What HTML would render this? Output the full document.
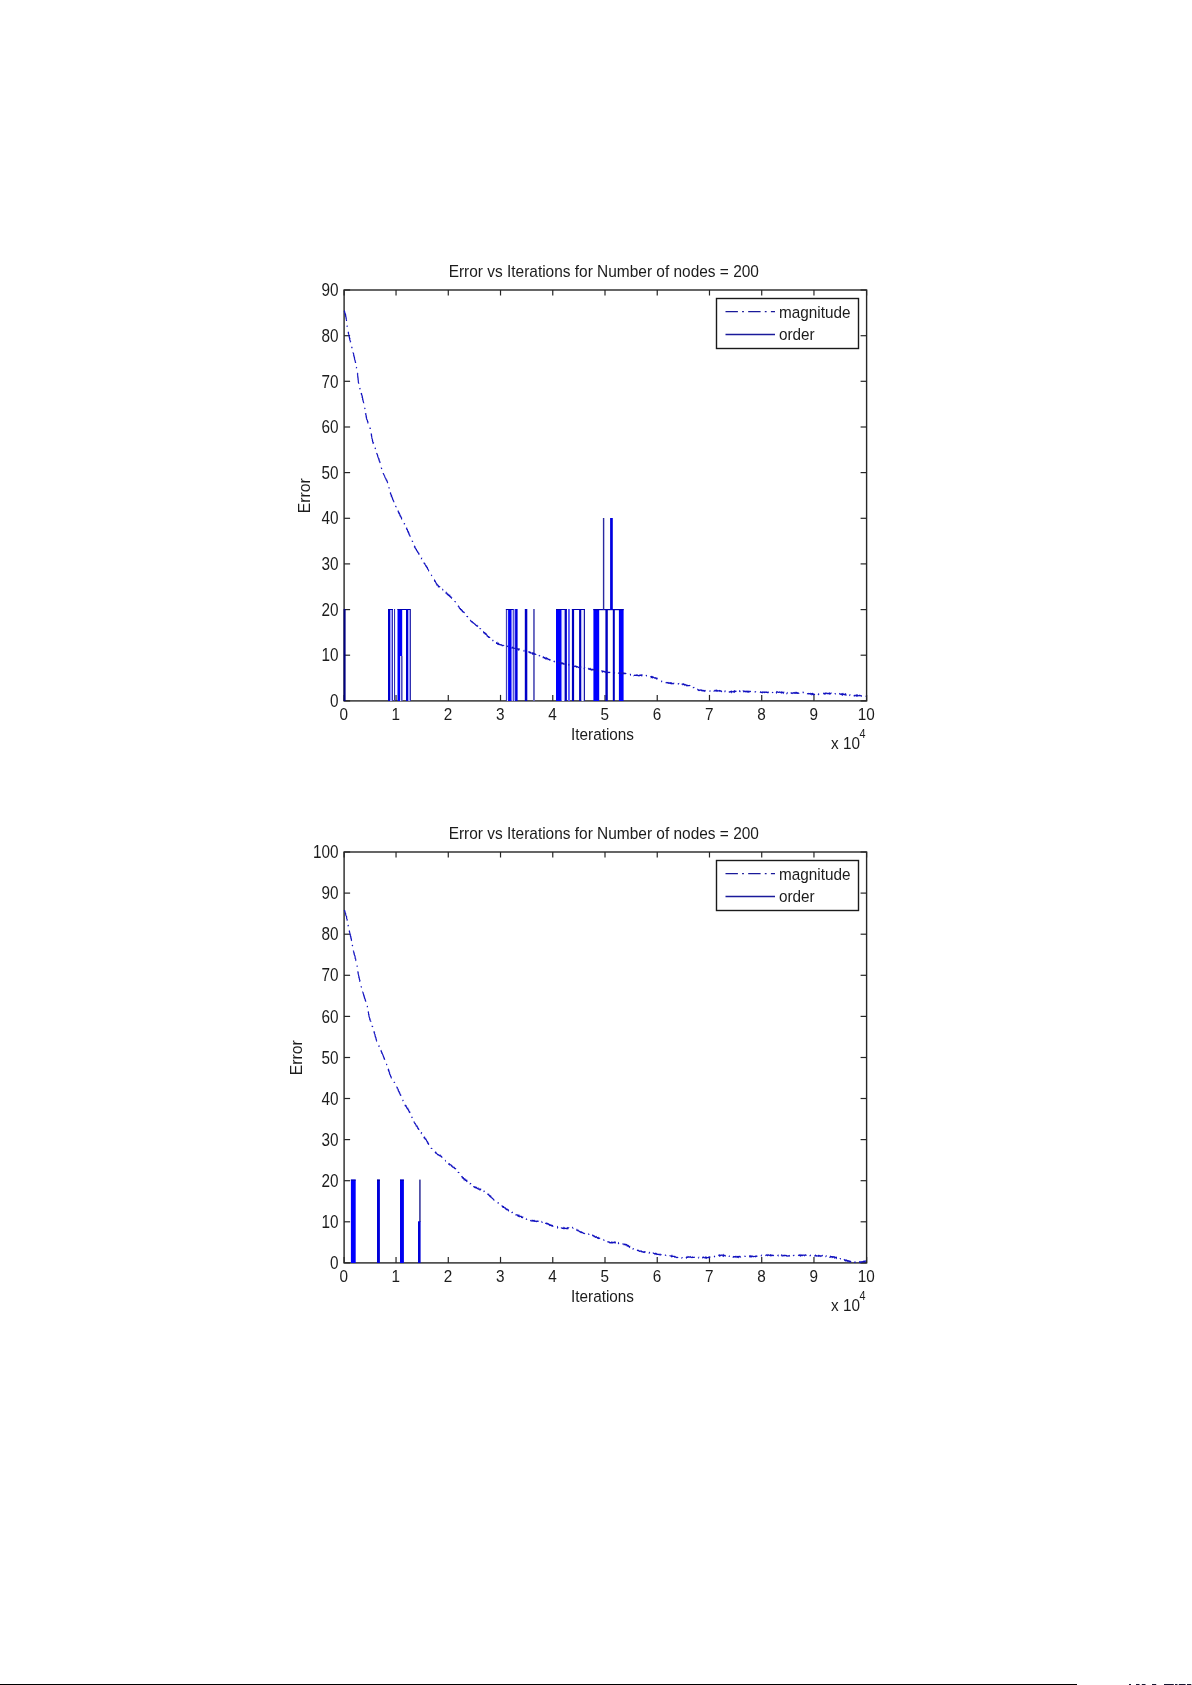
<!DOCTYPE html>
<html><head><meta charset="utf-8"><style>
html,body{margin:0;padding:0;background:#fff;width:1192px;height:1685px;overflow:hidden}
svg{position:absolute;left:0;top:0;will-change:transform}
.t{font-family:"Liberation Sans",sans-serif;font-size:17.0px;fill:#1c1c1c}
</style></head><body>
<svg width="1192" height="1685" viewBox="0 0 1192 1685">
<text transform="translate(603.80,277.20) scale(0.909,1)" text-anchor="middle" class="t">Error vs Iterations for Number of nodes = 200</text>
<text transform="translate(310.40,495.70) rotate(-90) scale(0.93,1)" text-anchor="middle" class="t">Error</text>
<text transform="translate(602.50,740.00) scale(0.9,1)" text-anchor="middle" class="t">Iterations</text>
<text transform="translate(831.00,748.50) scale(0.9,1)" text-anchor="start" class="t">x 10</text>
<text transform="translate(859.50,737.50) scale(0.9,1)" text-anchor="start" class="t" style="font-size:12px">4</text>
<rect x="344.1" y="290.0" width="522.5" height="410.9" fill="none" stroke="#262626" stroke-width="1.4"/>
<line x1="344.10" y1="700.9" x2="344.10" y2="694.9" stroke="#262626" stroke-width="1.2"/>
<line x1="344.10" y1="290.0" x2="344.10" y2="295.5" stroke="#262626" stroke-width="1.2"/>
<text transform="translate(343.80,719.80) scale(0.9,1)" text-anchor="middle" class="t">0</text>
<line x1="396.04" y1="700.9" x2="396.04" y2="694.9" stroke="#262626" stroke-width="1.2"/>
<line x1="396.04" y1="290.0" x2="396.04" y2="295.5" stroke="#262626" stroke-width="1.2"/>
<text transform="translate(395.74,719.80) scale(0.9,1)" text-anchor="middle" class="t">1</text>
<line x1="448.28" y1="700.9" x2="448.28" y2="694.9" stroke="#262626" stroke-width="1.2"/>
<line x1="448.28" y1="290.0" x2="448.28" y2="295.5" stroke="#262626" stroke-width="1.2"/>
<text transform="translate(447.98,719.80) scale(0.9,1)" text-anchor="middle" class="t">2</text>
<line x1="500.52" y1="700.9" x2="500.52" y2="694.9" stroke="#262626" stroke-width="1.2"/>
<line x1="500.52" y1="290.0" x2="500.52" y2="295.5" stroke="#262626" stroke-width="1.2"/>
<text transform="translate(500.22,719.80) scale(0.9,1)" text-anchor="middle" class="t">3</text>
<line x1="552.76" y1="700.9" x2="552.76" y2="694.9" stroke="#262626" stroke-width="1.2"/>
<line x1="552.76" y1="290.0" x2="552.76" y2="295.5" stroke="#262626" stroke-width="1.2"/>
<text transform="translate(552.46,719.80) scale(0.9,1)" text-anchor="middle" class="t">4</text>
<line x1="605.00" y1="700.9" x2="605.00" y2="694.9" stroke="#262626" stroke-width="1.2"/>
<line x1="605.00" y1="290.0" x2="605.00" y2="295.5" stroke="#262626" stroke-width="1.2"/>
<text transform="translate(604.70,719.80) scale(0.9,1)" text-anchor="middle" class="t">5</text>
<line x1="657.24" y1="700.9" x2="657.24" y2="694.9" stroke="#262626" stroke-width="1.2"/>
<line x1="657.24" y1="290.0" x2="657.24" y2="295.5" stroke="#262626" stroke-width="1.2"/>
<text transform="translate(656.94,719.80) scale(0.9,1)" text-anchor="middle" class="t">6</text>
<line x1="709.48" y1="700.9" x2="709.48" y2="694.9" stroke="#262626" stroke-width="1.2"/>
<line x1="709.48" y1="290.0" x2="709.48" y2="295.5" stroke="#262626" stroke-width="1.2"/>
<text transform="translate(709.18,719.80) scale(0.9,1)" text-anchor="middle" class="t">7</text>
<line x1="761.72" y1="700.9" x2="761.72" y2="694.9" stroke="#262626" stroke-width="1.2"/>
<line x1="761.72" y1="290.0" x2="761.72" y2="295.5" stroke="#262626" stroke-width="1.2"/>
<text transform="translate(761.42,719.80) scale(0.9,1)" text-anchor="middle" class="t">8</text>
<line x1="813.96" y1="700.9" x2="813.96" y2="694.9" stroke="#262626" stroke-width="1.2"/>
<line x1="813.96" y1="290.0" x2="813.96" y2="295.5" stroke="#262626" stroke-width="1.2"/>
<text transform="translate(813.66,719.80) scale(0.9,1)" text-anchor="middle" class="t">9</text>
<line x1="866.60" y1="700.9" x2="866.60" y2="694.9" stroke="#262626" stroke-width="1.2"/>
<line x1="866.60" y1="290.0" x2="866.60" y2="295.5" stroke="#262626" stroke-width="1.2"/>
<text transform="translate(866.30,719.80) scale(0.9,1)" text-anchor="middle" class="t">10</text>
<line x1="344.1" y1="700.9" x2="350.1" y2="700.9" stroke="#262626" stroke-width="1.2"/>
<line x1="866.6" y1="700.9" x2="860.6" y2="700.9" stroke="#262626" stroke-width="1.2"/>
<text transform="translate(338.50,707.10) scale(0.875,1)" text-anchor="end" class="t" style="font-size:17.5px">0</text>
<line x1="344.1" y1="655.2" x2="350.1" y2="655.2" stroke="#262626" stroke-width="1.2"/>
<line x1="866.6" y1="655.2" x2="860.6" y2="655.2" stroke="#262626" stroke-width="1.2"/>
<text transform="translate(338.50,661.44) scale(0.875,1)" text-anchor="end" class="t" style="font-size:17.5px">10</text>
<line x1="344.1" y1="609.6" x2="350.1" y2="609.6" stroke="#262626" stroke-width="1.2"/>
<line x1="866.6" y1="609.6" x2="860.6" y2="609.6" stroke="#262626" stroke-width="1.2"/>
<text transform="translate(338.50,615.79) scale(0.875,1)" text-anchor="end" class="t" style="font-size:17.5px">20</text>
<line x1="344.1" y1="563.9" x2="350.1" y2="563.9" stroke="#262626" stroke-width="1.2"/>
<line x1="866.6" y1="563.9" x2="860.6" y2="563.9" stroke="#262626" stroke-width="1.2"/>
<text transform="translate(338.50,570.13) scale(0.875,1)" text-anchor="end" class="t" style="font-size:17.5px">30</text>
<line x1="344.1" y1="518.3" x2="350.1" y2="518.3" stroke="#262626" stroke-width="1.2"/>
<line x1="866.6" y1="518.3" x2="860.6" y2="518.3" stroke="#262626" stroke-width="1.2"/>
<text transform="translate(338.50,524.48) scale(0.875,1)" text-anchor="end" class="t" style="font-size:17.5px">40</text>
<line x1="344.1" y1="472.6" x2="350.1" y2="472.6" stroke="#262626" stroke-width="1.2"/>
<line x1="866.6" y1="472.6" x2="860.6" y2="472.6" stroke="#262626" stroke-width="1.2"/>
<text transform="translate(338.50,478.82) scale(0.875,1)" text-anchor="end" class="t" style="font-size:17.5px">50</text>
<line x1="344.1" y1="427.0" x2="350.1" y2="427.0" stroke="#262626" stroke-width="1.2"/>
<line x1="866.6" y1="427.0" x2="860.6" y2="427.0" stroke="#262626" stroke-width="1.2"/>
<text transform="translate(338.50,433.17) scale(0.875,1)" text-anchor="end" class="t" style="font-size:17.5px">60</text>
<line x1="344.1" y1="381.3" x2="350.1" y2="381.3" stroke="#262626" stroke-width="1.2"/>
<line x1="866.6" y1="381.3" x2="860.6" y2="381.3" stroke="#262626" stroke-width="1.2"/>
<text transform="translate(338.50,387.51) scale(0.875,1)" text-anchor="end" class="t" style="font-size:17.5px">70</text>
<line x1="344.1" y1="335.7" x2="350.1" y2="335.7" stroke="#262626" stroke-width="1.2"/>
<line x1="866.6" y1="335.7" x2="860.6" y2="335.7" stroke="#262626" stroke-width="1.2"/>
<text transform="translate(338.50,341.86) scale(0.875,1)" text-anchor="end" class="t" style="font-size:17.5px">80</text>
<line x1="344.1" y1="290.0" x2="350.1" y2="290.0" stroke="#262626" stroke-width="1.2"/>
<line x1="866.6" y1="290.0" x2="860.6" y2="290.0" stroke="#262626" stroke-width="1.2"/>
<text transform="translate(338.50,296.20) scale(0.875,1)" text-anchor="end" class="t" style="font-size:17.5px">90</text>
<rect x="343.6" y="609" width="2.00" height="92.00" fill="#000080"/>
<rect x="388.0" y="609" width="2.00" height="92.00" fill="#0000d0"/>
<rect x="390.0" y="609.6" width="2.00" height="91.40" fill="#a0a0ff"/>
<rect x="392.0" y="609" width="1.00" height="92.00" fill="#3030b0"/>
<rect x="388.0" y="609" width="5.00" height="1.00" fill="#0000b0"/>
<rect x="394.0" y="609" width="1.10" height="92.00" fill="#3030c0"/>
<rect x="397.5" y="609" width="4.70" height="47.00" fill="#0000ff"/>
<rect x="397.5" y="656" width="2.50" height="45.00" fill="#0000ff"/>
<rect x="400.0" y="656" width="1.00" height="45.00" fill="#d0d0ff"/>
<rect x="401.0" y="656" width="1.60" height="45.00" fill="#5050c0"/>
<rect x="397.5" y="609" width="13.50" height="1.00" fill="#0000b0"/>
<rect x="406.0" y="609" width="2.20" height="92.00" fill="#0000d0"/>
<rect x="408.2" y="610" width="1.80" height="91.00" fill="#a0a0ff"/>
<rect x="410.0" y="609" width="1.00" height="92.00" fill="#3030b0"/>
<rect x="505.9" y="609" width="1.00" height="92.00" fill="#1a1aa8"/>
<rect x="506.9" y="610" width="1.20" height="91.00" fill="#d8d8ff"/>
<rect x="508.1" y="609" width="3.60" height="92.00" fill="#0000ff"/>
<rect x="511.7" y="610" width="1.20" height="91.00" fill="#d0d0ff"/>
<rect x="512.9" y="609" width="0.90" height="92.00" fill="#1a1aa8"/>
<rect x="505.9" y="609" width="7.90" height="1.00" fill="#0000b0"/>
<rect x="513.8" y="609" width="1.30" height="92.00" fill="#a8a8ff"/>
<rect x="515.1" y="609" width="2.50" height="92.00" fill="#0000e0"/>
<rect x="524.8" y="609" width="2.50" height="92.00" fill="#0000c8"/>
<rect x="533.0" y="609" width="1.90" height="92.00" fill="#6666c0"/>
<rect x="556.0" y="609" width="5.70" height="92.00" fill="#0000ff"/>
<rect x="561.7" y="610" width="2.90" height="91.00" fill="#ececff"/>
<rect x="564.6" y="609" width="2.30" height="92.00" fill="#0000c0"/>
<rect x="556.0" y="609" width="10.90" height="1.00" fill="#0000b0"/>
<rect x="568.0" y="609" width="1.90" height="92.00" fill="#5858ff"/>
<rect x="571.9" y="609" width="2.20" height="92.00" fill="#0000c0"/>
<rect x="579.1" y="609" width="2.40" height="92.00" fill="#0000c0"/>
<rect x="581.5" y="610" width="2.30" height="91.00" fill="#ececff"/>
<rect x="583.8" y="609" width="1.20" height="92.00" fill="#1a1aa8"/>
<rect x="571.9" y="609" width="13.10" height="1.00" fill="#0000b0"/>
<rect x="593.4" y="609" width="5.80" height="92.00" fill="#0000ff"/>
<rect x="605.4" y="609" width="2.40" height="92.00" fill="#0000c0"/>
<rect x="612.8" y="609" width="2.00" height="92.00" fill="#0000c0"/>
<rect x="618.9" y="609" width="4.70" height="92.00" fill="#0000ff"/>
<rect x="593.4" y="609" width="30.20" height="1.20" fill="#0000b0"/>
<rect x="602.9" y="518" width="1.40" height="92.00" fill="#2a2aa0"/>
<rect x="610.1" y="518" width="2.70" height="92.00" fill="#0000e0"/>
<path d="M344.30,310.70 L344.52,310.96 L344.33,311.33 L344.44,311.61 L344.71,311.85 L344.70,312.17 L344.80,312.46 L344.80,312.78 L344.83,313.09 L345.18,313.31 L345.28,313.60 L345.05,313.98 L345.29,314.23 L345.24,314.56 L345.61,314.78 L345.52,315.12 L345.49,315.44 L345.77,315.69 L345.57,316.06 L345.66,316.35 L345.90,316.60 L346.09,316.88 L346.13,317.18 L346.01,317.50 L345.92,317.82 L346.13,318.10 L346.23,318.39 L346.20,318.70 L346.36,318.98 L346.34,319.29 L346.31,319.60 L346.34,319.90 L346.46,320.19 L346.50,320.49 L346.54,320.79 L346.51,321.10 L346.60,321.39 L346.72,321.68 L346.51,322.01 L346.63,322.30 L346.65,322.61 L346.83,322.89 L346.62,323.22 L346.70,323.51 L346.97,323.78 L346.94,324.09 L346.86,324.41 L346.90,324.71 L346.87,325.02 L347.07,325.30 L346.98,325.61 L347.07,325.91 L347.23,326.19 L347.18,326.50 L347.13,326.82 L347.18,327.11 L347.32,327.40 L347.34,327.70 L347.55,327.98 L347.52,328.29 L347.39,328.61 L347.55,328.90 L347.66,329.19 L347.60,329.50 L347.65,329.80 L347.66,330.12 L347.74,330.41 L347.92,330.69 L347.96,330.99 L348.01,331.30 L347.98,331.62 L348.14,331.90 L348.25,332.19 L348.29,332.50 L348.52,332.76 L348.59,333.06 L348.42,333.42 L348.38,333.74 L348.59,334.01 L348.73,334.29 L348.88,334.57 L348.83,334.90 L348.72,335.24 L348.87,335.52 L349.02,335.80 L348.97,336.13 L349.27,336.38 L349.24,336.70 L349.15,337.04 L349.35,337.31 L349.46,337.60 L349.60,337.88 L349.57,338.20 L349.49,338.54 L349.90,338.76 L349.69,339.12 L349.74,339.43 L349.79,339.73 L349.91,340.02 L349.95,340.33 L350.12,340.60 L350.20,340.90 L350.25,341.20 L350.38,341.48 L350.60,341.74 L350.36,342.11 L350.55,342.37 L350.77,342.63 L350.73,342.95 L350.81,343.24 L350.94,343.52 L351.02,343.82 L351.02,344.13 L351.06,344.43 L351.14,344.72 L351.28,345.00 L351.52,345.25 L351.52,345.56 L351.61,345.85 L351.53,346.18 L351.50,346.50 L351.60,346.79 L351.68,347.08 L351.75,347.38 L352.04,347.62 L351.89,347.97 L352.03,348.24 L352.33,348.48 L352.43,348.77 L352.51,349.06 L352.40,349.40 L352.38,349.72 L352.63,349.97 L352.75,350.26 L352.63,350.60 L352.81,350.87 L352.98,351.15 L353.02,351.45 L352.95,351.78 L353.15,352.05 L353.18,352.36 L353.09,352.69 L353.26,352.97 L353.38,353.25 L353.39,353.56 L353.63,353.82 L353.56,354.15 L353.62,354.45 L353.78,354.73 L353.87,355.02 L353.65,355.38 L353.87,355.65 L354.05,355.92 L353.97,356.25 L353.96,356.57 L354.33,356.80 L354.40,357.09 L354.42,357.40 L354.28,357.75 L354.56,358.00 L354.42,358.34 L354.50,358.64 L354.62,358.92 L354.81,359.19 L354.60,359.56 L354.74,359.84 L354.91,360.11 L355.09,360.38 L355.01,360.72 L355.17,360.99 L355.20,361.30 L355.23,361.61 L355.39,361.89 L355.34,362.21 L355.60,362.47 L355.58,362.79 L355.40,363.13 L355.50,363.43 L355.76,363.69 L355.62,364.03 L355.88,364.29 L355.72,364.63 L355.85,364.92 L356.02,365.19 L356.14,365.48 L356.29,365.76 L356.04,366.13 L356.40,366.37 L356.19,366.72 L356.20,367.03 L356.40,367.31 L356.60,367.58 L356.41,367.93 L356.44,368.23 L356.59,368.51 L356.72,368.80 L356.83,369.09 L356.90,369.39 L357.01,369.68 L356.91,370.01 L357.06,370.30 L357.20,370.58 L357.29,370.87 L357.16,371.21 L357.35,371.49 L357.34,371.80 L357.40,372.10 L357.48,372.39 L357.35,372.71 L357.38,373.01 L357.66,373.29 L357.64,373.59 L357.63,373.89 L357.47,374.21 L357.56,374.51 L357.72,374.80 L357.79,375.09 L357.69,375.41 L357.67,375.71 L357.67,376.01 L357.88,376.30 L357.75,376.61 L357.84,376.91 L357.93,377.20 L357.81,377.51 L358.06,377.79 L357.95,378.11 L358.17,378.39 L358.17,378.69 L357.99,379.01 L358.22,379.29 L358.09,379.61 L358.17,379.90 L358.13,380.21 L358.30,380.50 L358.34,380.80 L358.38,381.09 L358.25,381.41 L358.35,381.70 L358.28,382.01 L358.33,382.31 L358.58,382.59 L358.49,382.90 L358.65,383.19 L358.70,383.49 L358.60,383.80 L358.85,384.04 L358.62,384.42 L358.73,384.70 L358.80,385.00 L359.08,385.23 L359.05,385.55 L359.07,385.86 L359.31,386.11 L359.31,386.42 L359.53,386.67 L359.67,386.94 L359.68,387.25 L359.52,387.61 L359.73,387.87 L359.67,388.20 L359.94,388.44 L360.09,388.71 L359.97,389.05 L360.04,389.35 L360.44,389.55 L360.27,389.91 L360.58,390.13 L360.65,390.43 L360.43,390.80 L360.84,391.00 L360.85,391.31 L360.64,391.68 L360.94,391.91 L361.14,392.17 L361.21,392.46 L361.26,392.76 L361.14,393.11 L361.48,393.33 L361.24,393.71 L361.54,393.94 L361.38,394.29 L361.49,394.58 L361.82,394.80 L361.91,395.08 L361.90,395.40 L361.98,395.69 L362.18,395.96 L362.05,396.30 L362.34,396.54 L362.42,396.83 L362.13,397.21 L362.45,397.45 L362.41,397.77 L362.53,398.05 L362.65,398.33 L362.81,398.60 L362.57,398.97 L362.62,399.27 L362.69,399.57 L363.07,399.79 L363.10,400.09 L363.02,400.42 L362.96,400.75 L363.18,401.00 L363.20,401.31 L363.28,401.60 L363.49,401.86 L363.46,402.18 L363.61,402.46 L363.70,402.75 L363.83,403.03 L363.83,403.34 L363.64,403.69 L363.90,403.94 L363.90,404.26 L363.97,404.55 L363.93,404.87 L364.20,405.12 L364.30,405.40 L364.36,405.70 L364.43,405.99 L364.30,406.33 L364.50,406.60 L364.42,406.92 L364.67,407.18 L364.71,407.48 L364.70,407.79 L364.74,408.09 L364.78,408.39 L364.95,408.67 L365.08,408.95 L365.06,409.26 L365.17,409.55 L365.06,409.88 L365.27,410.14 L365.33,410.44 L365.19,410.77 L365.36,411.05 L365.24,411.38 L365.39,411.66 L365.32,411.98 L365.61,412.23 L365.55,412.55 L365.50,412.87 L365.80,413.12 L365.56,413.47 L365.87,413.72 L365.72,414.05 L365.70,414.36 L365.81,414.65 L366.03,414.92 L366.16,415.20 L366.07,415.53 L365.99,415.85 L366.25,416.11 L366.10,416.44 L366.41,416.69 L366.20,417.04 L366.55,417.28 L366.50,417.60 L366.36,417.93 L366.45,418.22 L366.60,418.50 L366.53,418.85 L366.66,419.12 L366.80,419.40 L366.92,419.68 L367.24,419.89 L367.23,420.21 L367.44,420.46 L367.31,420.83 L367.43,421.11 L367.70,421.33 L367.88,421.59 L367.60,422.01 L367.77,422.27 L367.98,422.52 L368.08,422.81 L368.05,423.14 L368.32,423.37 L368.44,423.65 L368.57,423.93 L368.70,424.20 L368.90,424.45 L368.74,424.83 L368.94,425.09 L368.97,425.39 L369.28,425.61 L369.26,425.94 L369.45,426.19 L369.56,426.48 L369.60,426.78 L369.46,427.15 L369.74,427.38 L369.84,427.66 L369.85,427.98 L370.11,428.21 L370.31,428.47 L370.19,428.83 L370.30,429.11 L370.40,429.40 L370.40,429.71 L370.53,429.99 L370.50,430.30 L370.54,430.60 L370.76,430.87 L370.73,431.18 L370.79,431.48 L370.93,431.76 L370.93,432.07 L370.93,432.38 L370.87,432.70 L370.92,433.00 L371.19,433.25 L371.12,433.57 L371.38,433.83 L371.43,434.13 L371.33,434.46 L371.26,434.78 L371.56,435.03 L371.41,435.37 L371.42,435.67 L371.67,435.93 L371.60,436.25 L371.60,436.56 L371.82,436.83 L371.76,437.15 L371.80,437.45 L371.91,437.74 L371.87,438.05 L371.91,438.35 L371.95,438.65 L372.14,438.92 L372.33,439.20 L372.36,439.50 L372.42,439.79 L372.36,440.11 L372.35,440.42 L372.64,440.68 L372.48,441.01 L372.60,441.30 L372.61,441.62 L372.87,441.86 L372.90,442.17 L373.16,442.41 L373.02,442.78 L373.42,442.97 L373.12,443.40 L373.30,443.67 L373.48,443.93 L373.73,444.16 L373.56,444.55 L373.64,444.85 L374.10,445.02 L373.93,445.40 L374.00,445.70 L374.19,445.96 L374.27,446.26 L374.48,446.51 L374.38,446.87 L374.47,447.17 L374.82,447.37 L374.74,447.73 L375.01,447.96 L375.22,448.21 L375.26,448.52 L375.45,448.78 L375.22,449.19 L375.30,449.49 L375.76,449.65 L375.70,450.00 L375.76,450.30 L375.94,450.57 L376.16,450.81 L376.19,451.13 L376.31,451.41 L376.19,451.78 L376.61,451.96 L376.63,452.28 L376.63,452.60 L376.90,452.83 L376.75,453.21 L376.86,453.50 L376.86,453.82 L377.22,454.02 L377.29,454.32 L377.28,454.65 L377.50,454.90 L377.46,455.23 L377.70,455.47 L377.62,455.83 L377.68,456.13 L377.77,456.42 L377.80,456.74 L378.08,456.97 L378.20,457.25 L378.15,457.59 L378.29,457.87 L378.47,458.13 L378.65,458.39 L378.79,458.67 L378.96,458.93 L378.77,459.32 L379.16,459.51 L379.00,459.90 L379.18,460.16 L379.10,460.51 L379.29,460.77 L379.30,461.09 L379.75,461.26 L379.70,461.60 L379.79,461.89 L379.84,462.20 L380.03,462.46 L380.04,462.78 L380.18,463.05 L380.20,463.37 L380.50,463.60 L380.41,463.95 L380.49,464.24 L380.63,464.52 L380.68,464.82 L380.61,465.16 L380.74,465.44 L380.90,465.72 L380.92,466.03 L381.11,466.29 L381.27,466.57 L381.43,466.84 L381.41,467.16 L381.37,467.49 L381.34,467.82 L381.45,468.11 L381.66,468.37 L381.55,468.71 L381.85,468.95 L381.78,469.29 L382.04,469.53 L381.99,469.86 L381.98,470.19 L382.34,470.40 L382.47,470.68 L382.38,471.03 L382.50,471.31 L382.60,471.60 L382.79,471.85 L383.08,472.05 L383.04,472.42 L383.15,472.70 L383.28,472.98 L383.20,473.35 L383.46,473.57 L383.52,473.89 L383.57,474.20 L383.77,474.45 L384.01,474.67 L384.03,475.01 L384.20,475.26 L384.33,475.54 L384.46,475.82 L384.69,476.05 L384.72,476.38 L384.85,476.66 L384.83,477.00 L385.03,477.25 L385.13,477.54 L385.30,477.81 L385.40,478.09 L385.63,478.33 L385.87,478.56 L386.04,478.82 L385.97,479.19 L386.02,479.50 L386.30,479.71 L386.61,479.91 L386.42,480.33 L386.71,480.54 L386.85,480.82 L387.17,481.01 L387.08,481.38 L387.10,481.71 L387.38,481.92 L387.54,482.19 L387.60,482.50 L387.62,482.81 L387.94,483.03 L387.83,483.38 L387.74,483.71 L387.92,483.98 L388.10,484.24 L388.07,484.56 L388.18,484.84 L388.41,485.10 L388.49,485.39 L388.31,485.75 L388.62,485.98 L388.77,486.25 L388.56,486.62 L388.76,486.88 L388.90,487.15 L388.92,487.46 L388.91,487.77 L389.21,488.01 L389.10,488.35 L389.15,488.65 L389.19,488.95 L389.48,489.18 L389.42,489.51 L389.65,489.76 L389.60,490.09 L389.83,490.34 L389.67,490.70 L389.71,491.00 L390.00,491.23 L390.12,491.51 L389.91,491.88 L390.09,492.15 L390.11,492.45 L390.50,492.66 L390.40,493.00 L390.33,493.35 L390.56,493.59 L390.80,493.83 L390.86,494.13 L390.82,494.47 L390.92,494.76 L391.29,494.94 L391.21,495.30 L391.51,495.51 L391.27,495.93 L391.61,496.13 L391.51,496.49 L391.70,496.74 L391.86,497.01 L392.12,497.24 L392.11,497.56 L392.38,497.79 L392.49,498.07 L392.35,498.45 L392.61,498.68 L392.55,499.03 L392.88,499.23 L392.78,499.59 L392.89,499.88 L393.17,500.09 L393.37,500.35 L393.35,500.68 L393.41,500.98 L393.69,501.20 L393.76,501.50 L393.93,501.76 L393.80,502.14 L393.78,502.47 L394.18,502.64 L394.36,502.90 L394.18,503.29 L394.24,503.60 L394.28,503.91 L394.54,504.13 L394.70,504.40 L394.91,504.63 L394.81,505.02 L395.29,505.11 L395.16,505.51 L395.58,505.63 L395.57,505.98 L395.66,506.27 L395.86,506.50 L396.09,506.72 L396.20,507.00 L396.06,507.41 L396.37,507.59 L396.45,507.89 L396.76,508.06 L396.66,508.45 L396.98,508.63 L396.99,508.96 L396.98,509.30 L397.08,509.59 L397.67,509.62 L397.45,510.07 L397.56,510.35 L397.95,510.49 L398.00,510.80 L398.18,511.05 L398.22,511.37 L398.19,511.72 L398.55,511.89 L398.46,512.27 L398.64,512.52 L399.04,512.68 L398.82,513.11 L399.36,513.20 L399.42,513.51 L399.31,513.90 L399.72,514.05 L399.69,514.39 L399.93,514.62 L399.91,514.97 L399.86,515.32 L399.96,515.61 L400.48,515.71 L400.60,516.00 L400.37,516.44 L400.86,516.55 L400.88,516.87 L400.90,517.20 L401.23,517.37 L401.39,517.63 L401.57,517.89 L401.42,518.32 L401.52,518.61 L401.69,518.87 L401.76,519.18 L401.99,519.40 L402.27,519.60 L402.30,519.93 L402.29,520.29 L402.59,520.48 L402.93,520.64 L403.16,520.87 L402.89,521.36 L403.20,521.54 L403.47,521.75 L403.49,522.09 L403.66,522.35 L403.82,522.61 L404.19,522.76 L404.20,523.10 L404.32,523.39 L404.56,523.60 L404.38,524.05 L404.75,524.20 L404.78,524.53 L404.90,524.82 L405.04,525.09 L405.30,525.30 L405.32,525.62 L405.43,525.91 L405.77,526.08 L405.57,526.50 L406.06,526.62 L405.83,527.05 L405.98,527.31 L406.10,527.59 L406.59,527.71 L406.69,528.00 L406.48,528.42 L406.76,528.63 L406.92,528.89 L406.77,529.28 L407.31,529.38 L407.21,529.75 L407.37,530.01 L407.63,530.23 L407.63,530.56 L407.61,530.90 L407.65,531.21 L408.16,531.32 L408.06,531.69 L408.37,531.89 L408.17,532.30 L408.62,532.44 L408.76,532.71 L408.72,533.06 L408.69,533.40 L409.00,533.60 L409.20,533.84 L409.02,534.25 L409.13,534.53 L409.23,534.81 L409.60,534.98 L409.67,535.29 L409.87,535.53 L409.85,535.87 L410.07,536.10 L410.19,536.38 L410.11,536.74 L410.15,537.06 L410.44,537.26 L410.78,537.44 L410.65,537.83 L410.86,538.07 L410.74,538.45 L410.98,538.68 L411.05,538.98 L411.23,539.23 L411.42,539.47 L411.38,539.82 L411.53,540.09 L411.80,540.30 L412.02,540.54 L412.20,540.79 L412.23,541.12 L412.29,541.43 L412.60,541.62 L412.61,541.95 L412.63,542.28 L413.00,542.46 L412.77,542.89 L412.97,543.14 L413.25,543.35 L413.38,543.63 L413.48,543.92 L413.61,544.20 L413.54,544.56 L413.78,544.80 L413.89,545.08 L414.19,545.29 L413.96,545.72 L414.36,545.88 L414.40,546.20 L414.64,546.41 L414.92,546.60 L414.63,547.13 L415.03,547.25 L414.97,547.63 L415.12,547.90 L415.25,548.17 L415.48,548.39 L415.58,548.69 L415.74,548.95 L415.95,549.18 L416.43,549.25 L416.39,549.62 L416.52,549.90 L416.47,550.28 L416.73,550.48 L416.92,550.72 L417.06,551.00 L417.40,551.15 L417.27,551.58 L417.57,551.76 L417.84,551.95 L417.96,552.23 L417.87,552.64 L418.24,552.78 L418.57,552.94 L418.74,553.19 L418.63,553.61 L418.84,553.84 L418.83,554.20 L419.34,554.25 L419.38,554.58 L419.38,554.93 L419.86,555.00 L419.99,555.28 L419.93,555.67 L420.22,555.85 L420.45,556.07 L420.53,556.38 L420.50,556.75 L420.71,556.98 L421.08,557.11 L421.24,557.37 L421.02,557.86 L421.27,558.06 L421.65,558.19 L421.47,558.65 L422.04,558.67 L422.02,559.04 L421.94,559.44 L422.16,559.66 L422.53,559.80 L422.38,560.24 L422.68,560.41 L422.70,560.75 L422.85,561.02 L423.23,561.15 L423.26,561.49 L423.50,561.70 L423.64,561.97 L423.60,562.35 L423.82,562.57 L424.02,562.81 L424.13,563.10 L424.20,563.41 L424.72,563.45 L424.90,563.70 L424.79,564.12 L424.94,564.39 L425.22,564.57 L425.39,564.83 L425.59,565.06 L425.51,565.46 L425.71,565.70 L425.97,565.90 L426.39,566.00 L426.15,566.50 L426.50,566.64 L426.79,566.82 L426.89,567.12 L426.86,567.49 L427.35,567.55 L427.45,567.85 L427.52,568.16 L427.39,568.59 L427.61,568.81 L427.66,569.14 L428.03,569.28 L428.17,569.54 L428.34,569.80 L428.51,570.05 L428.66,570.32 L428.68,570.66 L428.77,570.96 L429.19,571.06 L429.24,571.39 L429.56,571.55 L429.71,571.81 L429.77,572.13 L429.89,572.42 L430.06,572.67 L430.01,573.05 L430.57,573.07 L430.49,573.48 L430.47,573.84 L430.76,574.03 L431.00,574.24 L431.25,574.44 L431.39,574.71 L431.50,575.00 L431.44,575.38 L431.61,575.63 L431.87,575.83 L431.91,576.16 L432.05,576.43 L432.24,576.67 L432.62,576.80 L432.73,577.08 L432.72,577.44 L433.07,577.58 L433.04,577.95 L433.32,578.13 L433.55,578.35 L433.64,578.65 L433.96,578.81 L433.99,579.14 L434.11,579.42 L434.46,579.57 L434.53,579.88 L434.64,580.16 L434.50,580.59 L434.78,580.78 L435.08,580.96 L434.89,581.42 L435.40,581.47 L435.43,581.80 L435.47,582.13 L435.64,582.38 L435.92,582.57 L435.90,582.92 L436.20,583.10 L436.24,583.43 L436.50,583.63 L436.41,584.03 L436.69,584.21 L437.15,584.30 L437.28,584.57 L437.02,585.07 L437.40,585.20 L437.76,585.25 L438.09,585.34 L438.20,585.66 L438.32,585.99 L438.32,586.45 L438.82,586.34 L438.89,586.72 L439.07,586.98 L439.66,586.77 L439.63,587.26 L439.67,587.67 L440.12,587.63 L440.35,587.82 L440.67,587.92 L440.61,588.45 L440.83,588.66 L441.48,588.38 L441.49,588.83 L441.78,588.96 L441.89,589.29 L442.38,589.19 L442.54,589.47 L442.76,589.68 L442.90,589.99 L442.97,590.36 L443.17,590.60 L443.43,590.76 L443.71,590.90 L444.23,590.77 L444.31,591.14 L444.40,591.49 L444.81,591.49 L444.94,591.80 L444.98,592.22 L445.59,591.99 L445.46,592.60 L446.05,592.38 L446.14,592.74 L446.12,593.22 L446.69,593.04 L446.76,593.41 L447.04,593.55 L447.04,594.01 L447.22,594.27 L447.79,594.08 L447.92,594.40 L447.95,594.82 L448.35,594.82 L448.74,594.84 L448.70,595.34 L449.14,595.31 L449.29,595.59 L449.75,595.53 L449.51,596.27 L449.90,596.29 L450.20,596.40 L450.19,596.82 L450.38,597.07 L450.94,596.97 L451.01,597.33 L451.27,597.51 L451.32,597.88 L451.48,598.15 L452.00,598.09 L452.18,598.34 L452.17,598.76 L452.53,598.86 L452.88,598.95 L453.05,599.21 L453.08,599.60 L453.27,599.85 L453.29,600.24 L453.71,600.27 L453.88,600.53 L454.32,600.55 L454.40,600.90 L454.67,601.06 L454.67,601.48 L455.09,601.51 L455.33,601.71 L455.46,602.01 L455.60,602.30 L455.79,602.54 L456.02,602.75 L456.06,603.10 L456.44,603.21 L456.26,603.70 L456.53,603.89 L456.78,604.09 L457.19,604.19 L457.22,604.53 L457.21,604.91 L457.41,605.14 L457.49,605.45 L457.63,605.74 L458.08,605.80 L458.17,606.11 L458.42,606.31 L458.69,606.50 L458.85,606.75 L458.97,607.05 L459.22,607.25 L459.17,607.65 L459.26,607.96 L459.50,608.17 L459.70,608.40 L459.82,608.71 L460.26,608.69 L460.49,608.89 L460.52,609.29 L460.58,609.66 L461.02,609.65 L461.45,609.65 L461.65,609.88 L461.73,610.23 L461.79,610.60 L462.26,610.55 L462.41,610.83 L462.40,611.28 L462.46,611.64 L462.99,611.54 L463.08,611.88 L463.33,612.05 L463.79,612.02 L463.86,612.39 L464.16,612.51 L464.32,612.78 L464.28,613.25 L464.54,613.42 L465.07,613.31 L465.27,613.55 L465.16,614.08 L465.68,613.99 L465.70,614.40 L465.98,614.56 L466.20,614.78 L466.50,614.93 L466.70,615.16 L466.83,615.44 L466.89,615.78 L466.81,616.23 L467.15,616.35 L467.54,616.43 L467.51,616.84 L467.90,616.91 L467.97,617.25 L468.26,617.40 L468.13,617.90 L468.62,617.89 L468.59,618.31 L468.86,618.48 L468.95,618.80 L469.26,618.94 L469.31,619.28 L469.74,619.33 L469.79,619.68 L470.01,619.89 L470.25,620.09 L470.42,620.34 L470.62,620.57 L470.88,620.75 L470.82,621.19 L471.14,621.32 L471.40,621.50 L471.62,621.72 L472.09,621.62 L472.12,622.08 L472.52,622.07 L472.75,622.28 L472.89,622.60 L473.08,622.86 L473.46,622.88 L473.69,623.08 L473.81,623.42 L474.08,623.58 L474.36,623.73 L474.74,623.74 L474.86,624.09 L474.97,624.45 L475.27,624.57 L475.51,624.76 L475.61,625.13 L475.91,625.25 L476.17,625.42 L476.50,625.50 L476.95,625.46 L477.05,625.81 L477.09,626.22 L477.57,626.14 L477.43,626.75 L478.03,626.55 L477.90,627.15 L478.44,627.00 L478.37,627.54 L478.59,627.75 L479.06,627.68 L479.02,628.18 L479.60,628.00 L479.49,628.58 L479.94,628.53 L480.14,628.77 L480.53,628.81 L480.52,629.27 L480.90,629.30 L480.93,629.72 L481.10,630.00 L481.42,630.10 L481.93,629.99 L481.70,630.70 L481.94,630.89 L482.30,630.94 L482.66,631.01 L482.79,631.31 L482.86,631.69 L483.29,631.67 L483.50,631.90 L483.58,632.25 L483.88,632.37 L484.18,632.50 L484.15,632.97 L484.62,632.91 L484.74,633.23 L485.23,633.16 L485.24,633.58 L485.67,633.58 L485.55,634.12 L486.11,633.98 L486.31,634.22 L486.49,634.46 L486.69,634.69 L486.72,635.09 L487.01,635.22 L487.27,635.39 L487.13,635.96 L487.39,636.14 L487.73,636.22 L487.87,636.51 L488.07,636.73 L488.57,636.65 L488.51,637.15 L489.01,637.07 L489.06,637.45 L489.38,637.56 L489.69,637.67 L489.60,638.19 L489.75,638.47 L490.26,638.38 L490.20,638.88 L490.60,638.90 L490.92,638.98 L491.04,639.35 L491.15,639.75 L491.50,639.78 L492.08,639.49 L492.16,639.91 L492.45,640.05 L492.74,640.18 L492.76,640.69 L493.19,640.62 L493.33,640.96 L493.61,641.10 L493.92,641.20 L494.38,641.08 L494.36,641.65 L494.52,641.97 L495.10,641.68 L495.14,642.16 L495.47,642.24 L495.79,642.32 L495.88,642.73 L496.02,643.08 L496.70,642.64 L496.57,643.38 L497.00,643.30 L497.32,643.31 L497.46,643.78 L497.94,643.36 L498.05,643.90 L498.52,643.52 L498.73,643.82 L498.82,644.43 L499.19,644.29 L499.43,644.50 L499.81,644.35 L500.09,644.47 L500.36,644.59 L500.56,644.92 L500.85,644.99 L501.29,644.68 L501.50,644.98 L501.75,645.17 L502.02,645.30 L502.19,645.69 L502.50,645.73 L502.99,645.29 L503.20,645.58 L503.56,645.47 L503.87,645.51 L504.00,646.00 L504.37,645.69 L504.66,645.85 L504.85,646.41 L505.17,646.39 L505.45,646.56 L505.84,646.18 L506.16,646.12 L506.32,646.89 L506.64,646.83 L506.92,646.99 L507.38,646.25 L507.62,646.64 L507.88,646.90 L508.16,647.05 L508.43,647.27 L508.79,647.00 L509.12,646.93 L509.49,646.66 L509.65,647.41 L509.92,647.63 L510.23,647.63 L510.57,647.47 L510.93,647.26 L511.25,647.23 L511.45,647.75 L511.72,647.95 L512.02,648.03 L512.46,647.41 L512.69,647.83 L513.00,647.83 L513.31,647.81 L513.55,648.19 L513.82,648.38 L514.16,648.25 L514.46,648.29 L514.77,648.34 L515.07,648.37 L515.40,648.30 L515.69,648.41 L516.05,648.25 L516.22,648.78 L516.67,648.31 L516.84,648.83 L517.19,648.70 L517.44,648.93 L517.72,649.08 L518.05,649.02 L518.23,649.53 L518.70,648.99 L519.04,648.88 L519.12,649.75 L519.56,649.29 L519.86,649.35 L520.13,649.55 L520.40,649.70 L520.67,649.86 L520.87,650.27 L521.22,650.11 L521.60,649.86 L521.84,650.13 L522.15,650.13 L522.43,650.26 L522.74,650.26 L523.08,650.13 L523.32,650.40 L523.61,650.48 L523.95,650.40 L524.09,651.00 L524.49,650.69 L524.83,650.60 L525.02,651.03 L525.24,651.34 L525.55,651.36 L525.88,651.31 L526.14,651.48 L526.52,651.23 L526.86,651.14 L527.12,651.32 L527.39,651.48 L527.69,651.50 L527.94,651.73 L528.30,651.54 L528.60,651.61 L528.80,652.00 L529.16,651.91 L529.46,651.97 L529.56,652.56 L529.93,652.45 L530.31,652.29 L530.53,652.58 L530.68,653.04 L531.05,652.91 L531.34,652.99 L531.68,652.97 L532.02,652.92 L532.17,653.37 L532.62,653.03 L532.69,653.71 L533.20,653.23 L533.27,653.89 L533.67,653.70 L533.86,654.05 L534.17,654.08 L534.60,653.81 L534.76,654.25 L535.18,653.98 L535.42,654.22 L535.66,654.44 L535.97,654.47 L536.14,654.88 L536.33,655.24 L536.80,654.84 L536.94,655.34 L537.41,654.95 L537.55,655.44 L537.94,655.26 L538.17,655.51 L538.59,655.26 L538.65,655.96 L539.12,655.57 L539.33,655.88 L539.66,655.84 L539.79,656.37 L540.14,656.30 L540.42,656.42 L540.66,656.64 L541.10,656.34 L541.44,656.29 L541.49,657.02 L541.93,656.71 L542.07,657.22 L542.31,657.44 L542.69,657.28 L543.13,656.96 L543.19,657.67 L543.54,657.60 L543.94,657.39 L544.24,657.47 L544.43,657.82 L544.83,657.61 L544.88,658.35 L545.23,658.29 L545.48,658.49 L545.89,658.24 L546.01,658.78 L546.53,658.25 L546.64,658.83 L547.07,658.56 L547.43,658.47 L547.68,658.67 L547.94,658.84 L548.05,659.39 L548.45,659.19 L548.70,659.38 L548.95,659.59 L549.34,659.42 L549.51,659.82 L549.78,659.95 L549.99,660.26 L550.40,660.03 L550.58,660.42 L550.83,660.61 L551.18,660.56 L551.57,660.39 L551.89,660.37 L552.23,660.34 L552.30,661.03 L552.79,660.57 L552.95,661.03 L553.26,661.05 L553.67,660.82 L553.90,661.06 L554.10,661.40 L554.33,661.75 L554.68,661.57 L554.89,661.97 L555.19,662.02 L555.65,661.39 L555.82,661.96 L556.24,661.49 L556.46,661.88 L556.75,661.97 L556.94,662.48 L557.30,662.24 L557.68,661.96 L557.91,662.30 L558.20,662.38 L558.56,662.17 L558.82,662.38 L559.01,662.89 L559.28,663.05 L559.61,662.94 L560.05,662.40 L560.17,663.19 L560.55,662.87 L560.77,663.26 L561.20,662.77 L561.50,662.81 L561.64,663.53 L562.05,663.07 L562.40,662.93 L562.60,663.39 L562.79,663.88 L563.12,663.81 L563.50,663.51 L563.67,664.09 L564.00,663.99 L564.29,664.09 L564.62,664.00 L564.96,663.85 L565.15,664.36 L565.53,664.05 L565.73,664.52 L566.10,664.26 L566.32,664.63 L566.70,664.33 L567.01,664.36 L567.27,664.56 L567.62,664.40 L567.94,664.32 L568.15,664.77 L568.39,665.06 L568.80,664.64 L568.97,665.21 L569.28,665.21 L569.57,665.27 L569.94,665.03 L570.12,665.60 L570.45,665.49 L570.79,665.38 L571.17,665.05 L571.37,665.51 L571.78,665.10 L571.89,665.93 L572.30,665.51 L572.59,665.61 L572.84,665.83 L573.12,665.98 L573.42,666.00 L573.74,665.98 L574.00,666.18 L574.25,666.43 L574.62,666.16 L574.90,666.27 L575.14,666.61 L575.59,665.98 L575.85,666.19 L576.11,666.40 L576.43,666.37 L576.58,667.02 L577.03,666.45 L577.33,666.48 L577.58,666.73 L577.83,666.96 L578.06,667.30 L578.32,667.52 L578.64,667.47 L578.99,667.32 L579.30,667.30 L579.67,666.95 L579.96,667.02 L580.17,667.57 L580.44,667.79 L580.82,667.35 L581.01,668.02 L581.37,667.71 L581.66,667.78 L581.95,667.87 L582.33,667.45 L582.62,667.58 L582.80,668.31 L583.20,667.77 L583.52,667.66 L583.79,667.89 L584.02,668.33 L584.38,667.98 L584.69,667.98 L584.97,668.09 L585.24,668.32 L585.50,668.60 L585.86,668.27 L586.07,668.83 L586.35,668.97 L586.67,668.88 L587.08,668.28 L587.34,668.54 L587.55,669.13 L587.85,669.13 L588.26,668.54 L588.51,668.86 L588.82,668.85 L589.06,669.24 L589.47,668.66 L589.72,668.96 L589.95,669.39 L590.22,669.57 L590.65,668.88 L590.86,669.41 L591.15,669.53 L591.41,669.76 L591.78,669.42 L591.99,669.95 L592.41,669.33 L592.72,669.31 L593.01,669.37 L593.24,669.82 L593.61,669.47 L593.88,669.65 L594.19,669.64 L594.51,669.57 L594.67,670.41 L595.06,669.92 L595.26,670.52 L595.59,670.36 L595.97,669.97 L596.16,670.65 L596.59,669.89 L596.74,670.80 L597.18,670.02 L597.45,670.26 L597.70,670.57 L598.08,670.15 L598.26,670.87 L598.66,670.32 L598.84,671.02 L599.26,670.38 L599.48,670.87 L599.83,670.64 L600.11,670.76 L600.38,670.99 L600.69,670.94 L600.99,671.01 L601.25,671.29 L601.61,670.94 L601.91,670.98 L602.13,671.47 L602.49,671.18 L602.69,671.79 L603.06,671.40 L603.35,671.50 L603.72,671.15 L604.01,671.20 L604.30,671.33 L604.52,671.84 L604.81,671.92 L605.06,672.23 L605.44,671.82 L605.69,672.12 L606.04,671.85 L606.38,671.67 L606.62,672.02 L606.88,672.32 L607.16,672.46 L607.43,672.64 L607.80,672.30 L608.08,672.62 L608.40,672.39 L608.70,672.40 L609.01,672.37 L609.31,672.37 L609.60,672.57 L609.91,672.50 L610.20,672.77 L610.52,672.42 L610.82,672.46 L611.10,672.80 L611.41,672.68 L611.72,672.56 L612.02,672.61 L612.31,672.85 L612.62,672.69 L612.94,672.39 L613.24,672.46 L613.53,672.74 L613.86,672.26 L614.14,672.64 L614.42,673.05 L614.76,672.48 L615.05,672.69 L615.33,672.93 L615.62,673.15 L615.94,672.97 L616.24,672.92 L616.56,672.72 L616.86,672.79 L617.15,672.99 L617.47,672.75 L617.74,673.16 L618.09,672.48 L618.35,673.16 L618.65,673.17 L618.98,672.80 L619.30,672.56 L619.58,672.86 L619.87,673.11 L620.16,673.30 L620.46,673.40 L620.79,672.82 L621.10,672.72 L621.40,672.78 L621.66,673.58 L621.98,673.29 L622.31,672.84 L622.58,673.36 L622.87,673.62 L623.19,673.32 L623.51,673.01 L623.77,673.68 L624.09,673.46 L624.40,673.30 L624.76,673.09 L624.94,673.66 L625.29,673.49 L625.57,673.62 L625.91,673.50 L626.22,673.50 L626.49,673.68 L626.77,673.83 L627.08,673.84 L627.30,674.25 L627.75,673.63 L628.02,673.80 L628.18,674.51 L628.54,674.28 L628.83,674.36 L629.13,674.43 L629.50,674.16 L629.76,674.35 L630.10,674.26 L630.40,674.27 L630.55,675.06 L630.89,674.91 L631.16,675.09 L631.62,674.40 L631.79,675.07 L632.16,674.79 L632.42,675.02 L632.68,675.23 L633.10,674.74 L633.33,675.10 L633.60,675.32 L633.83,675.66 L634.20,675.40 L634.50,675.41 L634.81,675.24 L635.11,675.49 L635.41,675.48 L635.71,675.21 L636.02,675.44 L636.32,675.20 L636.62,674.96 L636.93,675.23 L637.23,675.03 L637.53,675.39 L637.83,675.40 L638.14,675.73 L638.44,675.62 L638.74,675.62 L639.04,675.84 L639.35,675.19 L639.65,675.29 L639.95,675.16 L640.26,675.04 L640.56,675.41 L640.86,675.41 L641.16,675.07 L641.47,675.78 L641.77,675.83 L642.07,675.01 L642.38,674.95 L642.68,675.01 L642.98,675.61 L643.28,675.72 L643.59,675.01 L643.89,674.96 L644.19,675.43 L644.49,675.25 L644.80,674.97 L645.10,675.40 L645.50,675.06 L645.75,675.31 L646.05,675.37 L646.32,675.53 L646.56,675.82 L646.92,675.64 L647.22,675.70 L647.52,675.76 L647.67,676.41 L648.10,675.93 L648.33,676.28 L648.65,676.27 L648.97,676.24 L649.24,676.38 L649.62,676.12 L649.88,676.34 L650.08,676.81 L650.35,676.98 L650.76,676.60 L651.06,676.64 L651.20,677.33 L651.67,676.72 L651.81,677.39 L652.09,677.54 L652.54,676.99 L652.69,677.65 L653.13,677.15 L653.45,677.13 L653.69,677.41 L653.97,677.54 L654.21,677.82 L654.54,677.77 L654.76,678.15 L655.08,678.11 L655.49,677.72 L655.77,677.87 L656.00,678.20 L656.16,678.52 L656.68,678.22 L656.61,678.96 L656.92,679.01 L657.42,678.74 L657.66,678.94 L657.93,679.06 L658.13,679.33 L658.46,679.36 L658.81,679.35 L658.98,679.66 L659.27,679.76 L659.47,680.02 L659.69,680.24 L659.78,680.69 L660.13,680.69 L660.41,680.80 L660.57,681.13 L661.02,680.94 L661.27,681.11 L661.61,681.13 L661.63,681.70 L661.88,681.88 L662.13,682.05 L662.51,681.98 L662.97,681.78 L663.25,681.90 L663.22,682.56 L663.60,682.50 L663.87,682.87 L664.20,682.59 L664.47,682.97 L664.77,683.01 L665.09,682.88 L665.43,682.57 L665.72,682.67 L666.04,682.61 L666.33,682.68 L666.63,682.78 L666.97,682.41 L667.27,682.53 L667.57,682.60 L667.83,682.99 L668.11,683.29 L668.43,683.18 L668.78,682.71 L669.05,683.01 L669.34,683.19 L669.69,682.79 L670.00,682.77 L670.25,683.27 L670.59,682.97 L670.85,683.36 L671.20,682.97 L671.44,683.61 L671.79,683.16 L672.08,683.29 L672.38,683.43 L672.65,683.76 L672.95,683.82 L673.26,683.79 L673.58,683.67 L673.93,683.15 L674.23,683.29 L674.50,683.60 L674.81,683.65 L675.08,684.08 L675.41,683.87 L675.75,683.42 L676.05,683.59 L676.32,684.16 L676.66,683.77 L676.94,684.12 L677.25,684.14 L677.56,684.09 L677.88,683.98 L678.18,684.04 L678.52,683.77 L678.84,683.60 L679.09,684.36 L679.46,683.57 L679.75,683.80 L680.04,684.13 L680.32,684.47 L680.68,683.82 L680.99,683.88 L681.25,684.44 L681.60,684.00 L681.90,684.09 L682.20,684.20 L682.52,684.14 L682.88,683.94 L683.01,684.77 L683.35,684.63 L683.78,684.09 L684.06,684.23 L684.35,684.33 L684.60,684.60 L684.80,685.11 L685.24,684.53 L685.52,684.66 L685.80,684.80 L686.06,685.04 L686.28,685.44 L686.65,685.19 L686.88,685.57 L687.24,685.32 L687.56,685.29 L687.77,685.73 L688.12,685.54 L688.44,685.51 L688.73,685.61 L689.06,685.54 L689.34,685.67 L689.70,685.42 L689.98,685.60 L690.17,686.15 L690.58,685.66 L690.87,685.79 L691.17,685.82 L691.43,686.05 L691.79,685.85 L692.00,686.30 L692.30,686.40 L692.43,686.73 L692.63,686.96 L692.79,687.25 L693.39,686.97 L693.37,687.49 L693.81,687.40 L693.98,687.67 L694.12,688.00 L694.23,688.34 L694.55,688.42 L694.64,688.79 L695.33,688.39 L695.43,688.76 L695.59,689.04 L696.04,688.95 L696.27,689.15 L696.30,689.60 L696.62,689.53 L696.90,689.75 L697.26,689.42 L697.57,689.41 L697.84,689.68 L698.09,690.10 L698.41,690.00 L698.66,690.42 L699.02,690.13 L699.28,690.43 L699.63,690.20 L699.94,690.16 L700.26,690.15 L700.61,689.90 L700.91,689.94 L701.13,690.51 L701.41,690.74 L701.83,690.05 L702.11,690.24 L702.39,690.41 L702.70,690.45 L702.93,690.96 L703.31,690.49 L703.61,690.59 L703.89,690.80 L704.13,691.25 L704.52,690.72 L704.78,691.07 L705.10,691.00 L705.39,690.59 L705.70,690.92 L706.02,691.36 L706.30,690.72 L706.61,690.84 L706.92,691.10 L707.22,691.01 L707.52,691.01 L707.82,691.03 L708.13,691.09 L708.42,690.76 L708.72,690.78 L709.03,690.82 L709.33,690.92 L709.64,690.96 L709.94,691.22 L710.24,690.79 L710.54,690.83 L710.85,691.17 L711.16,691.28 L711.44,690.62 L711.76,691.05 L712.05,690.61 L712.36,691.05 L712.65,690.41 L712.96,690.83 L713.26,690.87 L713.57,690.98 L713.88,691.17 L714.18,691.06 L714.47,690.84 L714.77,690.77 L715.07,690.33 L715.38,690.81 L715.68,690.81 L715.99,690.97 L716.28,690.44 L716.59,690.81 L716.88,690.32 L717.20,690.92 L717.50,691.00 L717.80,690.65 L718.10,690.70 L718.39,690.90 L718.69,690.91 L719.03,690.62 L719.35,690.45 L719.59,691.08 L719.93,690.76 L720.25,690.61 L720.53,690.89 L720.80,691.27 L721.09,691.41 L721.42,691.10 L721.69,691.49 L722.07,690.81 L722.34,691.12 L722.69,690.72 L722.97,690.95 L723.21,691.56 L723.59,690.86 L723.84,691.42 L724.15,691.32 L724.41,691.78 L724.72,691.81 L725.10,691.07 L725.39,691.22 L725.63,691.90 L725.99,691.34 L726.30,691.24 L726.54,691.92 L726.87,691.69 L727.20,691.45 L727.48,691.70 L727.80,691.61 L728.10,691.67 L728.39,691.79 L728.73,691.47 L729.00,691.80 L729.31,691.89 L729.63,692.18 L729.92,691.83 L730.24,691.99 L730.52,691.52 L730.82,691.39 L731.11,691.24 L731.47,692.10 L731.73,691.31 L732.05,691.53 L732.37,691.76 L732.68,691.81 L732.98,691.69 L733.27,691.51 L733.60,691.83 L733.89,691.48 L734.21,691.82 L734.48,691.10 L734.82,691.68 L735.09,691.11 L735.41,691.35 L735.72,691.38 L736.01,691.13 L736.33,691.35 L736.66,691.70 L736.92,690.95 L737.24,691.08 L737.58,691.76 L737.86,691.27 L738.16,691.20 L738.49,691.65 L738.79,691.51 L739.07,690.96 L739.39,691.32 L739.68,690.93 L740.00,691.20 L740.29,691.46 L740.60,691.28 L740.90,691.51 L741.23,690.86 L741.50,691.65 L741.83,691.04 L742.11,691.61 L742.42,691.26 L742.71,691.67 L743.04,690.98 L743.35,690.95 L743.63,691.34 L743.92,691.77 L744.24,691.36 L744.54,691.42 L744.86,691.12 L745.15,691.47 L745.45,691.38 L745.74,691.81 L746.05,691.69 L746.36,691.47 L746.68,691.19 L746.98,691.20 L747.25,691.96 L747.56,691.65 L747.88,691.31 L748.16,691.85 L748.49,691.33 L748.78,691.56 L749.07,691.96 L749.40,691.27 L749.71,691.29 L750.01,691.26 L750.31,691.36 L750.60,691.57 L750.91,691.54 L751.21,691.52 L751.53,691.29 L751.81,691.73 L752.11,691.71 L752.40,691.99 L752.72,691.61 L753.02,691.87 L753.33,691.64 L753.61,692.05 L753.94,691.55 L754.23,691.84 L754.54,691.82 L754.84,691.84 L755.14,691.93 L755.44,691.94 L755.75,691.76 L756.03,692.23 L756.33,692.36 L756.65,692.02 L756.95,692.10 L757.25,692.19 L757.57,691.84 L757.86,692.10 L758.17,692.00 L758.47,692.03 L758.78,691.97 L759.07,692.11 L759.39,691.84 L759.69,691.87 L760.00,691.85 L760.28,692.22 L760.60,691.92 L760.88,692.41 L761.18,692.54 L761.49,692.42 L761.80,692.20 L762.10,692.05 L762.41,692.60 L762.71,692.06 L763.01,692.08 L763.32,692.29 L763.62,692.34 L763.93,692.12 L764.23,692.46 L764.53,692.52 L764.84,692.01 L765.14,691.95 L765.44,692.11 L765.75,692.38 L766.05,692.35 L766.36,691.91 L766.66,692.10 L766.96,692.56 L767.27,692.61 L767.57,692.29 L767.87,692.45 L768.18,692.51 L768.48,691.95 L768.79,691.81 L769.09,692.30 L769.39,692.10 L769.70,692.39 L770.00,692.01 L770.30,692.14 L770.61,692.48 L770.91,691.83 L771.21,692.12 L771.52,691.89 L771.82,692.23 L772.13,692.41 L772.43,692.64 L772.73,692.43 L773.04,691.88 L773.34,692.14 L773.64,692.24 L773.95,692.32 L774.25,692.38 L774.56,692.63 L774.86,692.60 L775.16,691.94 L775.47,691.89 L775.77,692.62 L776.07,691.89 L776.38,692.62 L776.68,691.86 L776.99,692.28 L777.29,691.87 L777.59,691.87 L777.90,692.05 L778.20,692.20 L778.48,692.49 L778.79,692.44 L779.12,692.13 L779.44,692.00 L779.73,692.23 L780.05,692.09 L780.34,692.18 L780.62,692.44 L780.93,692.46 L781.19,692.88 L781.57,692.17 L781.83,692.60 L782.13,692.66 L782.47,692.31 L782.75,692.53 L783.08,692.37 L783.31,693.07 L783.66,692.61 L783.99,692.39 L784.26,692.79 L784.56,692.87 L784.83,693.22 L785.14,693.10 L785.49,692.67 L785.73,693.33 L786.12,692.55 L786.36,693.20 L786.72,692.65 L786.95,693.37 L787.31,692.84 L787.56,693.41 L787.86,693.46 L788.17,693.45 L788.53,692.89 L788.81,693.18 L789.10,693.30 L789.38,692.93 L789.71,693.47 L790.02,693.71 L790.30,693.27 L790.61,693.37 L790.91,693.37 L791.19,692.89 L791.50,693.08 L791.79,693.05 L792.11,693.40 L792.40,693.08 L792.69,693.03 L793.00,693.18 L793.29,692.86 L793.58,692.72 L793.89,692.86 L794.18,692.65 L794.51,693.22 L794.80,693.02 L795.10,693.15 L795.40,693.09 L795.68,692.62 L796.01,693.29 L796.31,693.28 L796.58,692.54 L796.90,692.91 L797.21,693.21 L797.50,692.87 L797.81,693.25 L798.11,693.09 L798.41,693.05 L798.72,693.26 L799.01,693.13 L799.30,692.94 L799.58,692.45 L799.90,692.80 L800.21,693.00 L800.50,692.84 L800.80,692.88 L801.09,692.65 L801.41,693.08 L801.69,692.54 L802.01,692.88 L802.30,692.68 L802.59,692.41 L802.88,692.28 L803.20,692.70 L803.55,692.42 L803.82,692.61 L804.10,692.81 L804.45,692.47 L804.75,692.55 L804.94,693.24 L805.22,693.45 L805.59,693.01 L805.88,693.09 L806.16,693.25 L806.53,692.85 L806.76,693.29 L807.04,693.45 L807.30,693.73 L807.64,693.52 L807.95,693.47 L808.27,693.40 L808.50,693.89 L808.85,693.59 L809.15,693.60 L809.41,693.87 L809.75,693.66 L810.10,693.38 L810.32,693.88 L810.58,694.17 L810.95,693.78 L811.28,693.58 L811.58,693.64 L811.77,694.39 L812.17,693.74 L812.40,694.26 L812.77,693.81 L813.01,694.23 L813.25,694.62 L813.64,694.07 L813.93,694.18 L814.20,694.40 L814.51,694.47 L814.81,694.41 L815.11,694.38 L815.40,694.20 L815.68,693.86 L816.02,694.33 L816.30,694.02 L816.63,694.30 L816.92,694.11 L817.21,693.94 L817.56,694.56 L817.81,693.93 L818.17,694.49 L818.43,694.02 L818.74,694.05 L819.02,693.78 L819.31,693.67 L819.66,694.12 L819.94,693.87 L820.25,693.96 L820.52,693.58 L820.85,693.85 L821.17,693.95 L821.48,694.02 L821.77,693.91 L822.05,693.66 L822.38,693.87 L822.67,693.77 L822.97,693.64 L823.28,693.75 L823.56,693.43 L823.84,693.19 L824.15,693.24 L824.51,693.95 L824.81,693.86 L825.11,693.77 L825.37,693.24 L825.71,693.73 L826.01,693.66 L826.30,693.41 L826.58,693.17 L826.87,692.97 L827.20,693.30 L827.47,693.77 L827.78,693.79 L828.09,693.68 L828.42,693.33 L828.70,693.61 L829.00,693.79 L829.32,693.48 L829.65,693.13 L829.90,693.91 L830.23,693.54 L830.52,693.77 L830.84,693.65 L831.17,693.17 L831.45,693.55 L831.78,693.17 L832.07,693.42 L832.34,694.06 L832.66,693.84 L832.97,693.75 L833.30,693.36 L833.57,693.89 L833.88,693.84 L834.18,693.89 L834.48,693.96 L834.77,694.19 L835.10,693.78 L835.39,693.95 L835.70,693.90 L836.00,693.97 L836.30,694.07 L836.63,693.65 L836.95,693.55 L837.25,693.63 L837.55,693.58 L837.83,694.06 L838.15,693.86 L838.42,694.31 L838.76,693.77 L839.07,693.78 L839.33,694.44 L839.68,693.77 L839.96,694.02 L840.25,694.35 L840.56,694.25 L840.88,694.01 L841.19,693.91 L841.47,694.33 L841.79,694.05 L842.06,694.62 L842.40,694.11 L842.66,694.73 L843.02,693.93 L843.29,694.48 L843.60,694.40 L843.92,694.23 L844.21,694.43 L844.51,694.43 L844.79,694.79 L845.14,694.26 L845.39,694.81 L845.76,694.18 L846.01,694.74 L846.30,694.94 L846.63,694.61 L846.90,695.02 L847.25,694.60 L847.55,694.63 L847.81,695.16 L848.10,695.25 L848.42,695.10 L848.77,694.63 L849.01,695.30 L849.36,694.81 L849.63,695.28 L849.97,694.82 L850.28,694.76 L850.58,694.82 L850.85,695.24 L851.13,695.52 L851.47,695.14 L851.81,694.80 L852.06,695.34 L852.35,695.56 L852.66,695.48 L853.03,694.82 L853.30,695.12 L853.57,695.56 L853.88,695.52 L854.16,695.82 L854.50,695.40 L854.78,695.77 L855.09,695.70 L855.39,695.62 L855.71,695.36 L856.02,695.06 L856.29,695.74 L856.60,695.47 L856.88,695.85 L857.22,695.21 L857.48,695.88 L857.79,695.70 L858.08,695.94 L858.39,695.79 L858.70,695.56 L859.00,695.65 L859.32,695.29 L859.61,695.44 L859.90,695.75 L860.22,695.41 L860.51,695.59 L860.79,695.86 L861.10,695.83 L861.38,696.12 L861.70,695.72 L862.00,695.84 L862.30,695.74 L862.59,696.06 L862.89,695.95 L863.18,696.26 L863.52,695.55 L863.82,695.55 L864.11,695.72 L864.39,696.03 L864.69,696.06 L865.01,695.68 L865.31,695.76 L865.60,696.07 L865.90,696.00" fill="none" stroke="#1212c0" stroke-width="1.15" stroke-dasharray="11.8,5,1.4,5"/>
<rect x="716.5" y="298.5" width="142" height="50" fill="#fff" stroke="#1a1a1a" stroke-width="1.4"/>
<line x1="725.5" y1="311.6" x2="775" y2="311.6" stroke="#1a1a9a" stroke-width="1.3" stroke-dasharray="12.4,4.2,1.8,4.3"/>
<line x1="725.5" y1="334.5" x2="775" y2="334.5" stroke="#1a1a9a" stroke-width="1.3"/>
<text transform="translate(779.00,317.50) scale(0.9,1)" text-anchor="start" class="t">magnitude</text>
<text transform="translate(779.00,339.80) scale(0.9,1)" text-anchor="start" class="t">order</text>
<text transform="translate(603.80,839.20) scale(0.909,1)" text-anchor="middle" class="t">Error vs Iterations for Number of nodes = 200</text>
<text transform="translate(302.20,1057.70) rotate(-90) scale(0.93,1)" text-anchor="middle" class="t">Error</text>
<text transform="translate(602.50,1302.00) scale(0.9,1)" text-anchor="middle" class="t">Iterations</text>
<text transform="translate(831.00,1310.50) scale(0.9,1)" text-anchor="start" class="t">x 10</text>
<text transform="translate(859.50,1299.50) scale(0.9,1)" text-anchor="start" class="t" style="font-size:12px">4</text>
<rect x="344.1" y="852.0" width="522.5" height="410.9000000000001" fill="none" stroke="#262626" stroke-width="1.4"/>
<line x1="344.10" y1="1262.9" x2="344.10" y2="1256.9" stroke="#262626" stroke-width="1.2"/>
<line x1="344.10" y1="852.0" x2="344.10" y2="857.5" stroke="#262626" stroke-width="1.2"/>
<text transform="translate(343.80,1281.80) scale(0.9,1)" text-anchor="middle" class="t">0</text>
<line x1="396.04" y1="1262.9" x2="396.04" y2="1256.9" stroke="#262626" stroke-width="1.2"/>
<line x1="396.04" y1="852.0" x2="396.04" y2="857.5" stroke="#262626" stroke-width="1.2"/>
<text transform="translate(395.74,1281.80) scale(0.9,1)" text-anchor="middle" class="t">1</text>
<line x1="448.28" y1="1262.9" x2="448.28" y2="1256.9" stroke="#262626" stroke-width="1.2"/>
<line x1="448.28" y1="852.0" x2="448.28" y2="857.5" stroke="#262626" stroke-width="1.2"/>
<text transform="translate(447.98,1281.80) scale(0.9,1)" text-anchor="middle" class="t">2</text>
<line x1="500.52" y1="1262.9" x2="500.52" y2="1256.9" stroke="#262626" stroke-width="1.2"/>
<line x1="500.52" y1="852.0" x2="500.52" y2="857.5" stroke="#262626" stroke-width="1.2"/>
<text transform="translate(500.22,1281.80) scale(0.9,1)" text-anchor="middle" class="t">3</text>
<line x1="552.76" y1="1262.9" x2="552.76" y2="1256.9" stroke="#262626" stroke-width="1.2"/>
<line x1="552.76" y1="852.0" x2="552.76" y2="857.5" stroke="#262626" stroke-width="1.2"/>
<text transform="translate(552.46,1281.80) scale(0.9,1)" text-anchor="middle" class="t">4</text>
<line x1="605.00" y1="1262.9" x2="605.00" y2="1256.9" stroke="#262626" stroke-width="1.2"/>
<line x1="605.00" y1="852.0" x2="605.00" y2="857.5" stroke="#262626" stroke-width="1.2"/>
<text transform="translate(604.70,1281.80) scale(0.9,1)" text-anchor="middle" class="t">5</text>
<line x1="657.24" y1="1262.9" x2="657.24" y2="1256.9" stroke="#262626" stroke-width="1.2"/>
<line x1="657.24" y1="852.0" x2="657.24" y2="857.5" stroke="#262626" stroke-width="1.2"/>
<text transform="translate(656.94,1281.80) scale(0.9,1)" text-anchor="middle" class="t">6</text>
<line x1="709.48" y1="1262.9" x2="709.48" y2="1256.9" stroke="#262626" stroke-width="1.2"/>
<line x1="709.48" y1="852.0" x2="709.48" y2="857.5" stroke="#262626" stroke-width="1.2"/>
<text transform="translate(709.18,1281.80) scale(0.9,1)" text-anchor="middle" class="t">7</text>
<line x1="761.72" y1="1262.9" x2="761.72" y2="1256.9" stroke="#262626" stroke-width="1.2"/>
<line x1="761.72" y1="852.0" x2="761.72" y2="857.5" stroke="#262626" stroke-width="1.2"/>
<text transform="translate(761.42,1281.80) scale(0.9,1)" text-anchor="middle" class="t">8</text>
<line x1="813.96" y1="1262.9" x2="813.96" y2="1256.9" stroke="#262626" stroke-width="1.2"/>
<line x1="813.96" y1="852.0" x2="813.96" y2="857.5" stroke="#262626" stroke-width="1.2"/>
<text transform="translate(813.66,1281.80) scale(0.9,1)" text-anchor="middle" class="t">9</text>
<line x1="866.60" y1="1262.9" x2="866.60" y2="1256.9" stroke="#262626" stroke-width="1.2"/>
<line x1="866.60" y1="852.0" x2="866.60" y2="857.5" stroke="#262626" stroke-width="1.2"/>
<text transform="translate(866.30,1281.80) scale(0.9,1)" text-anchor="middle" class="t">10</text>
<line x1="344.1" y1="1262.9" x2="350.1" y2="1262.9" stroke="#262626" stroke-width="1.2"/>
<line x1="866.6" y1="1262.9" x2="860.6" y2="1262.9" stroke="#262626" stroke-width="1.2"/>
<text transform="translate(338.50,1269.10) scale(0.875,1)" text-anchor="end" class="t" style="font-size:17.5px">0</text>
<line x1="344.1" y1="1221.8" x2="350.1" y2="1221.8" stroke="#262626" stroke-width="1.2"/>
<line x1="866.6" y1="1221.8" x2="860.6" y2="1221.8" stroke="#262626" stroke-width="1.2"/>
<text transform="translate(338.50,1228.01) scale(0.875,1)" text-anchor="end" class="t" style="font-size:17.5px">10</text>
<line x1="344.1" y1="1180.7" x2="350.1" y2="1180.7" stroke="#262626" stroke-width="1.2"/>
<line x1="866.6" y1="1180.7" x2="860.6" y2="1180.7" stroke="#262626" stroke-width="1.2"/>
<text transform="translate(338.50,1186.92) scale(0.875,1)" text-anchor="end" class="t" style="font-size:17.5px">20</text>
<line x1="344.1" y1="1139.6" x2="350.1" y2="1139.6" stroke="#262626" stroke-width="1.2"/>
<line x1="866.6" y1="1139.6" x2="860.6" y2="1139.6" stroke="#262626" stroke-width="1.2"/>
<text transform="translate(338.50,1145.83) scale(0.875,1)" text-anchor="end" class="t" style="font-size:17.5px">30</text>
<line x1="344.1" y1="1098.5" x2="350.1" y2="1098.5" stroke="#262626" stroke-width="1.2"/>
<line x1="866.6" y1="1098.5" x2="860.6" y2="1098.5" stroke="#262626" stroke-width="1.2"/>
<text transform="translate(338.50,1104.74) scale(0.875,1)" text-anchor="end" class="t" style="font-size:17.5px">40</text>
<line x1="344.1" y1="1057.5" x2="350.1" y2="1057.5" stroke="#262626" stroke-width="1.2"/>
<line x1="866.6" y1="1057.5" x2="860.6" y2="1057.5" stroke="#262626" stroke-width="1.2"/>
<text transform="translate(338.50,1063.65) scale(0.875,1)" text-anchor="end" class="t" style="font-size:17.5px">50</text>
<line x1="344.1" y1="1016.4" x2="350.1" y2="1016.4" stroke="#262626" stroke-width="1.2"/>
<line x1="866.6" y1="1016.4" x2="860.6" y2="1016.4" stroke="#262626" stroke-width="1.2"/>
<text transform="translate(338.50,1022.56) scale(0.875,1)" text-anchor="end" class="t" style="font-size:17.5px">60</text>
<line x1="344.1" y1="975.3" x2="350.1" y2="975.3" stroke="#262626" stroke-width="1.2"/>
<line x1="866.6" y1="975.3" x2="860.6" y2="975.3" stroke="#262626" stroke-width="1.2"/>
<text transform="translate(338.50,981.47) scale(0.875,1)" text-anchor="end" class="t" style="font-size:17.5px">70</text>
<line x1="344.1" y1="934.2" x2="350.1" y2="934.2" stroke="#262626" stroke-width="1.2"/>
<line x1="866.6" y1="934.2" x2="860.6" y2="934.2" stroke="#262626" stroke-width="1.2"/>
<text transform="translate(338.50,940.38) scale(0.875,1)" text-anchor="end" class="t" style="font-size:17.5px">80</text>
<line x1="344.1" y1="893.1" x2="350.1" y2="893.1" stroke="#262626" stroke-width="1.2"/>
<line x1="866.6" y1="893.1" x2="860.6" y2="893.1" stroke="#262626" stroke-width="1.2"/>
<text transform="translate(338.50,899.29) scale(0.875,1)" text-anchor="end" class="t" style="font-size:17.5px">90</text>
<line x1="344.1" y1="852.0" x2="350.1" y2="852.0" stroke="#262626" stroke-width="1.2"/>
<line x1="866.6" y1="852.0" x2="860.6" y2="852.0" stroke="#262626" stroke-width="1.2"/>
<text transform="translate(338.50,858.20) scale(0.875,1)" text-anchor="end" class="t" style="font-size:17.5px">100</text>
<rect x="350.9" y="1179.6" width="4.80" height="83.40" fill="#0000ff"/>
<rect x="350.9" y="1179.6" width="4.80" height="1.00" fill="#0000a0"/>
<rect x="377.0" y="1179.6" width="2.90" height="83.40" fill="#0000d8"/>
<rect x="377.0" y="1179.6" width="2.90" height="1.00" fill="#000090"/>
<rect x="400.0" y="1179.6" width="3.90" height="83.40" fill="#0000f0"/>
<rect x="400.0" y="1179.6" width="3.90" height="1.00" fill="#0000a0"/>
<rect x="419.0" y="1179.6" width="1.80" height="42.40" fill="#5050a8"/>
<rect x="418.0" y="1221.3" width="2.60" height="41.70" fill="#0000d8"/>
<path d="M344.50,910.00 L344.41,910.35 L344.50,910.65 L344.93,910.85 L345.01,911.15 L344.80,911.54 L344.92,911.83 L345.04,912.12 L345.27,912.38 L345.24,912.71 L345.32,913.01 L345.42,913.31 L345.67,913.56 L345.65,913.89 L345.75,914.19 L345.71,914.53 L345.69,914.86 L345.79,915.15 L346.04,915.41 L346.16,915.69 L346.32,915.97 L346.50,916.25 L346.40,916.60 L346.63,916.86 L346.53,917.19 L346.64,917.48 L346.68,917.78 L346.56,918.12 L346.75,918.39 L346.80,918.69 L346.97,918.96 L347.11,919.24 L347.06,919.56 L347.19,919.85 L347.12,920.17 L347.00,920.50 L347.18,920.78 L347.41,921.04 L347.22,921.39 L347.32,921.68 L347.40,921.97 L347.40,922.28 L347.51,922.57 L347.56,922.87 L347.77,923.13 L347.61,923.48 L347.68,923.77 L348.02,924.01 L347.87,924.35 L347.94,924.65 L348.09,924.93 L348.13,925.23 L348.20,925.52 L348.11,925.85 L348.32,926.12 L348.26,926.44 L348.49,926.70 L348.37,927.04 L348.42,927.34 L348.63,927.60 L348.66,927.91 L348.59,928.23 L348.80,928.50 L348.79,928.81 L348.94,929.09 L349.11,929.36 L349.14,929.66 L349.07,929.99 L349.33,930.24 L349.13,930.60 L349.43,930.84 L349.26,931.19 L349.55,931.43 L349.38,931.78 L349.55,932.05 L349.69,932.33 L349.75,932.63 L349.77,932.93 L349.86,933.22 L350.03,933.49 L350.14,933.78 L350.10,934.10 L350.01,934.43 L350.19,934.70 L350.46,934.95 L350.26,935.31 L350.36,935.59 L350.36,935.90 L350.69,936.14 L350.56,936.48 L350.88,936.71 L350.73,937.06 L350.94,937.32 L351.02,937.61 L350.85,937.96 L351.20,938.19 L351.12,938.52 L351.06,938.85 L351.36,939.09 L351.44,939.38 L351.40,939.70 L351.32,940.02 L351.53,940.29 L351.49,940.61 L351.77,940.86 L351.72,941.18 L351.83,941.46 L351.72,941.79 L351.97,942.05 L351.73,942.40 L352.10,942.65 L351.91,942.99 L352.21,943.24 L352.18,943.55 L352.05,943.88 L352.32,944.14 L352.37,944.44 L352.25,944.77 L352.41,945.05 L352.58,945.32 L352.31,945.68 L352.65,945.92 L352.74,946.22 L352.69,946.53 L352.65,946.85 L352.66,947.15 L352.93,947.41 L352.91,947.72 L353.07,948.00 L352.98,948.32 L352.93,948.64 L352.99,948.94 L352.99,949.24 L353.09,949.53 L353.11,949.84 L353.21,950.12 L353.35,950.41 L353.49,950.69 L353.39,951.01 L353.50,951.30 L353.65,951.58 L353.81,951.85 L353.76,952.18 L353.67,952.52 L354.04,952.73 L353.94,953.08 L354.09,953.35 L354.12,953.66 L354.34,953.91 L354.11,954.29 L354.45,954.52 L354.40,954.85 L354.55,955.12 L354.78,955.37 L354.65,955.72 L354.89,955.98 L355.00,956.26 L355.09,956.55 L355.12,956.86 L355.22,957.15 L355.09,957.50 L355.22,957.78 L355.12,958.13 L355.21,958.41 L355.27,958.72 L355.64,958.93 L355.64,959.25 L355.79,959.52 L355.74,959.85 L355.80,960.15 L355.81,960.46 L355.93,960.75 L356.18,961.00 L356.19,961.31 L356.23,961.61 L356.51,961.85 L356.40,962.20 L356.60,962.48 L356.52,962.80 L356.67,963.09 L356.52,963.42 L356.72,963.70 L356.82,963.99 L356.84,964.30 L356.87,964.61 L356.92,964.91 L356.87,965.23 L356.93,965.53 L357.03,965.82 L356.97,966.14 L357.16,966.42 L356.98,966.76 L357.01,967.06 L357.13,967.35 L357.28,967.64 L357.30,967.95 L357.32,968.25 L357.54,968.53 L357.47,968.85 L357.48,969.16 L357.64,969.44 L357.72,969.74 L357.54,970.08 L357.73,970.36 L357.72,970.67 L357.64,970.99 L357.79,971.28 L357.94,971.57 L357.76,971.90 L358.01,972.18 L358.17,972.46 L358.00,972.80 L358.24,973.07 L358.22,973.38 L358.09,973.71 L358.20,974.01 L358.30,974.30 L358.55,974.56 L358.45,974.90 L358.54,975.19 L358.58,975.50 L358.75,975.78 L358.68,976.11 L358.93,976.36 L358.93,976.68 L358.96,976.99 L358.83,977.34 L359.21,977.56 L359.03,977.92 L359.30,978.17 L359.23,978.51 L359.37,978.79 L359.41,979.10 L359.37,979.42 L359.57,979.69 L359.74,979.97 L359.81,980.27 L359.89,980.57 L359.68,980.93 L359.82,981.21 L359.77,981.54 L359.94,981.82 L360.25,982.06 L360.09,982.41 L360.11,982.72 L360.20,983.02 L360.35,983.30 L360.47,983.59 L360.51,983.90 L360.45,984.22 L360.71,984.48 L360.69,984.80 L360.77,985.10 L360.67,985.44 L360.90,985.70 L360.87,986.03 L360.90,986.33 L361.03,986.61 L361.33,986.84 L361.45,987.12 L361.43,987.44 L361.61,987.70 L361.63,988.01 L361.62,988.33 L361.61,988.65 L361.83,988.90 L361.83,989.22 L362.20,989.42 L362.19,989.75 L362.02,990.11 L362.45,990.30 L362.43,990.62 L362.65,990.87 L362.73,991.16 L362.50,991.55 L362.55,991.85 L362.77,992.10 L363.07,992.33 L363.09,992.64 L363.20,992.92 L363.11,993.27 L363.20,993.56 L363.38,993.82 L363.44,994.12 L363.69,994.36 L363.61,994.70 L363.53,995.04 L363.69,995.31 L364.05,995.52 L363.97,995.86 L363.97,996.18 L364.25,996.41 L364.08,996.78 L364.34,997.01 L364.33,997.33 L364.50,997.60 L364.63,997.87 L364.48,998.24 L364.66,998.50 L364.84,998.75 L365.11,998.98 L365.08,999.31 L365.34,999.54 L365.20,999.90 L365.18,1000.22 L365.56,1000.41 L365.52,1000.74 L365.62,1001.03 L365.75,1001.30 L365.71,1001.63 L365.71,1001.94 L365.90,1002.20 L366.09,1002.45 L365.98,1002.80 L366.33,1003.01 L366.26,1003.35 L366.38,1003.62 L366.43,1003.92 L366.49,1004.22 L366.84,1004.42 L366.77,1004.76 L366.95,1005.02 L366.94,1005.34 L367.10,1005.60 L366.99,1005.93 L367.16,1006.20 L367.43,1006.46 L367.33,1006.79 L367.30,1007.10 L367.30,1007.41 L367.43,1007.69 L367.43,1008.00 L367.76,1008.25 L367.50,1008.60 L367.63,1008.89 L367.72,1009.18 L367.68,1009.49 L367.74,1009.79 L368.06,1010.04 L367.87,1010.38 L367.94,1010.67 L368.19,1010.94 L368.06,1011.27 L368.17,1011.56 L368.36,1011.83 L368.21,1012.16 L368.49,1012.42 L368.38,1012.75 L368.50,1013.03 L368.61,1013.32 L368.56,1013.64 L368.65,1013.93 L368.80,1014.21 L368.59,1014.55 L368.95,1014.80 L369.03,1015.09 L368.92,1015.42 L368.85,1015.74 L368.97,1016.02 L368.99,1016.33 L369.14,1016.61 L369.13,1016.92 L369.30,1017.19 L369.30,1017.50 L369.50,1017.75 L369.50,1018.07 L369.80,1018.29 L369.88,1018.59 L369.69,1018.97 L370.04,1019.17 L369.89,1019.54 L369.98,1019.84 L370.24,1020.07 L370.23,1020.39 L370.28,1020.70 L370.35,1021.00 L370.75,1021.18 L370.84,1021.47 L370.85,1021.79 L370.91,1022.08 L371.09,1022.35 L371.31,1022.59 L371.18,1022.96 L371.10,1023.31 L371.46,1023.50 L371.48,1023.82 L371.65,1024.08 L371.72,1024.38 L371.64,1024.73 L371.98,1024.93 L371.94,1025.27 L372.11,1025.53 L372.18,1025.82 L372.12,1026.17 L372.58,1026.33 L372.36,1026.73 L372.68,1026.94 L372.64,1027.27 L372.68,1027.58 L372.84,1027.85 L373.05,1028.10 L373.10,1028.40 L373.05,1028.73 L373.43,1028.95 L373.30,1029.30 L373.48,1029.57 L373.50,1029.88 L373.46,1030.21 L373.57,1030.50 L373.72,1030.78 L373.93,1031.04 L374.04,1031.32 L374.03,1031.64 L374.21,1031.91 L374.27,1032.21 L374.09,1032.58 L374.50,1032.79 L374.31,1033.16 L374.56,1033.41 L374.65,1033.70 L374.75,1033.99 L374.93,1034.26 L374.87,1034.60 L375.06,1034.86 L375.04,1035.18 L375.18,1035.46 L375.03,1035.82 L375.10,1036.12 L375.37,1036.36 L375.38,1036.68 L375.35,1037.01 L375.67,1037.24 L375.84,1037.51 L375.87,1037.82 L375.97,1038.11 L375.86,1038.46 L376.07,1038.72 L376.16,1039.01 L376.07,1039.36 L376.37,1039.59 L376.23,1039.95 L376.38,1040.22 L376.56,1040.49 L376.60,1040.80 L376.58,1041.15 L376.93,1041.33 L376.81,1041.72 L376.91,1042.02 L377.24,1042.21 L377.28,1042.53 L377.29,1042.87 L377.51,1043.10 L377.63,1043.39 L377.70,1043.69 L377.80,1043.99 L378.01,1044.23 L378.04,1044.56 L378.48,1044.70 L378.45,1045.05 L378.56,1045.34 L378.82,1045.56 L378.94,1045.85 L379.17,1046.09 L378.94,1046.53 L379.34,1046.69 L379.40,1047.00 L379.53,1047.28 L379.46,1047.64 L379.90,1047.79 L379.67,1048.22 L380.17,1048.34 L380.34,1048.60 L380.31,1048.95 L380.43,1049.23 L380.30,1049.62 L380.43,1049.90 L380.61,1050.16 L380.88,1050.38 L380.95,1050.68 L381.21,1050.90 L381.06,1051.30 L381.38,1051.50 L381.55,1051.76 L381.51,1052.11 L381.85,1052.30 L381.89,1052.61 L381.74,1053.01 L382.24,1053.13 L382.33,1053.43 L382.43,1053.72 L382.53,1054.01 L382.57,1054.33 L382.77,1054.58 L382.85,1054.88 L383.01,1055.14 L383.13,1055.42 L383.09,1055.77 L383.33,1056.00 L383.44,1056.29 L383.50,1056.60 L383.49,1056.93 L383.91,1057.10 L383.99,1057.40 L383.79,1057.81 L384.08,1058.02 L384.04,1058.37 L384.44,1058.54 L384.38,1058.90 L384.35,1059.24 L384.68,1059.44 L384.60,1059.80 L384.78,1060.06 L384.99,1060.31 L384.83,1060.69 L385.21,1060.88 L385.28,1061.18 L385.33,1061.49 L385.57,1061.73 L385.46,1062.10 L385.67,1062.35 L385.79,1062.63 L385.92,1062.91 L385.84,1063.27 L385.95,1063.56 L386.12,1063.82 L386.40,1064.04 L386.53,1064.32 L386.59,1064.63 L386.91,1064.83 L387.00,1065.13 L386.72,1065.56 L387.21,1065.70 L386.97,1066.13 L387.19,1066.37 L387.20,1066.70 L387.67,1066.84 L387.60,1067.20 L387.77,1067.46 L387.66,1067.82 L388.08,1068.00 L388.14,1068.30 L388.13,1068.62 L388.30,1068.88 L388.40,1069.16 L388.28,1069.52 L388.61,1069.73 L388.34,1070.14 L388.57,1070.38 L388.91,1070.59 L388.65,1070.99 L389.02,1071.19 L389.01,1071.51 L389.08,1071.81 L389.34,1072.04 L389.29,1072.38 L389.56,1072.60 L389.60,1072.91 L389.40,1073.29 L389.53,1073.57 L389.75,1073.82 L389.77,1074.12 L389.79,1074.44 L390.19,1074.63 L390.13,1074.96 L390.38,1075.20 L390.48,1075.49 L390.57,1075.77 L390.63,1076.07 L390.60,1076.40 L390.98,1076.53 L391.06,1076.84 L391.14,1077.15 L391.19,1077.48 L391.23,1077.82 L391.37,1078.09 L391.63,1078.30 L391.89,1078.50 L391.85,1078.88 L392.38,1078.91 L392.57,1079.16 L392.38,1079.64 L392.64,1079.84 L393.01,1079.98 L393.09,1080.29 L393.29,1080.53 L393.38,1080.83 L393.55,1081.09 L393.72,1081.34 L393.69,1081.73 L393.84,1081.99 L394.13,1082.18 L394.33,1082.41 L394.59,1082.62 L394.51,1083.03 L394.57,1083.35 L395.10,1083.39 L395.03,1083.79 L395.19,1084.05 L395.37,1084.30 L395.85,1084.37 L395.75,1084.79 L396.09,1084.95 L396.10,1085.30 L396.37,1085.52 L396.32,1085.87 L396.41,1086.17 L396.55,1086.44 L396.62,1086.75 L396.76,1087.02 L397.00,1087.25 L397.32,1087.44 L397.11,1087.87 L397.21,1088.16 L397.34,1088.44 L397.57,1088.67 L397.95,1088.83 L398.01,1089.14 L398.17,1089.40 L398.06,1089.79 L398.23,1090.05 L398.52,1090.26 L398.29,1090.69 L398.41,1090.98 L398.57,1091.24 L398.90,1091.43 L399.10,1091.67 L399.27,1091.93 L399.11,1092.34 L399.29,1092.59 L399.61,1092.79 L399.45,1093.19 L399.73,1093.40 L399.93,1093.65 L400.05,1093.93 L400.04,1094.27 L400.29,1094.50 L400.32,1094.82 L400.69,1094.98 L400.55,1095.38 L400.88,1095.57 L400.90,1095.90 L400.84,1096.26 L401.27,1096.40 L401.34,1096.70 L401.37,1097.02 L401.56,1097.27 L401.62,1097.58 L401.56,1097.93 L402.01,1098.07 L401.87,1098.46 L402.03,1098.72 L402.11,1099.02 L402.38,1099.23 L402.50,1099.51 L402.67,1099.77 L402.73,1100.07 L402.95,1100.31 L403.10,1100.57 L403.10,1100.91 L403.35,1101.13 L403.34,1101.47 L403.42,1101.76 L403.66,1101.99 L403.84,1102.24 L403.77,1102.61 L403.77,1102.94 L404.18,1103.09 L404.13,1103.44 L404.30,1103.70 L404.39,1104.01 L404.44,1104.33 L404.70,1104.52 L405.05,1104.66 L405.27,1104.88 L405.12,1105.34 L405.55,1105.42 L405.86,1105.58 L405.60,1106.11 L406.10,1106.15 L406.20,1106.44 L406.36,1106.70 L406.56,1106.93 L406.49,1107.34 L406.85,1107.47 L406.96,1107.76 L407.14,1108.01 L407.10,1108.39 L407.67,1108.39 L407.55,1108.82 L407.94,1108.93 L408.09,1109.19 L408.03,1109.60 L408.31,1109.78 L408.63,1109.93 L408.53,1110.35 L408.54,1110.71 L408.83,1110.88 L409.07,1111.09 L409.09,1111.44 L409.40,1111.60 L409.34,1111.97 L409.82,1112.08 L409.88,1112.39 L409.70,1112.81 L409.84,1113.07 L410.30,1113.20 L410.20,1113.58 L410.25,1113.89 L410.51,1114.11 L410.59,1114.41 L410.80,1114.65 L411.06,1114.86 L411.20,1115.14 L411.39,1115.38 L411.24,1115.79 L411.61,1115.95 L411.52,1116.33 L411.75,1116.56 L411.86,1116.84 L411.74,1117.24 L412.14,1117.39 L412.23,1117.68 L412.40,1117.94 L412.60,1118.18 L412.72,1118.46 L412.71,1118.80 L412.71,1119.14 L413.17,1119.26 L412.90,1119.72 L413.16,1119.94 L413.57,1120.08 L413.40,1120.50 L413.67,1120.71 L413.74,1121.01 L414.06,1121.20 L414.00,1121.56 L414.12,1121.84 L414.13,1122.18 L414.35,1122.41 L414.42,1122.71 L414.54,1123.00 L414.90,1123.16 L414.90,1123.50 L415.31,1123.59 L415.25,1124.00 L415.60,1124.14 L415.76,1124.40 L415.84,1124.71 L415.91,1125.04 L416.04,1125.32 L416.19,1125.58 L416.22,1125.94 L416.81,1125.91 L416.75,1126.32 L417.16,1126.41 L417.04,1126.86 L417.32,1127.04 L417.64,1127.19 L417.73,1127.50 L417.72,1127.87 L417.99,1128.07 L417.92,1128.48 L418.39,1128.53 L418.57,1128.78 L418.45,1129.23 L418.78,1129.38 L419.00,1129.60 L419.37,1129.72 L419.20,1130.20 L419.58,1130.30 L419.46,1130.75 L419.78,1130.90 L419.87,1131.20 L420.00,1131.49 L420.36,1131.60 L420.30,1132.01 L420.94,1131.94 L420.95,1132.30 L420.88,1132.72 L421.46,1132.68 L421.30,1133.16 L421.31,1133.52 L421.62,1133.67 L421.72,1133.97 L422.28,1133.96 L422.22,1134.36 L422.35,1134.64 L422.61,1134.83 L422.79,1135.07 L422.78,1135.45 L423.26,1135.48 L423.49,1135.69 L423.39,1136.13 L423.37,1136.51 L423.61,1136.71 L423.86,1136.91 L424.22,1137.03 L424.08,1137.49 L424.68,1137.44 L424.75,1137.76 L424.65,1138.20 L424.77,1138.48 L425.18,1138.57 L425.10,1138.99 L425.67,1138.97 L425.60,1139.38 L426.03,1139.45 L426.12,1139.76 L426.31,1139.99 L426.58,1140.18 L426.50,1140.60 L426.70,1140.83 L426.82,1141.12 L427.08,1141.32 L427.06,1141.69 L427.51,1141.78 L427.44,1142.17 L427.59,1142.44 L427.81,1142.66 L427.72,1143.08 L428.26,1143.10 L428.27,1143.46 L428.41,1143.73 L428.61,1143.96 L428.48,1144.40 L428.83,1144.54 L429.02,1144.79 L429.21,1145.03 L429.37,1145.29 L429.27,1145.70 L429.51,1145.92 L429.74,1146.14 L430.14,1146.25 L430.08,1146.64 L430.47,1146.77 L430.52,1147.09 L430.60,1147.40 L431.05,1147.38 L430.92,1147.93 L431.00,1148.27 L431.38,1148.32 L431.63,1148.50 L432.00,1148.55 L432.12,1148.86 L432.32,1149.08 L432.55,1149.27 L432.84,1149.41 L433.08,1149.60 L433.03,1150.07 L433.14,1150.39 L433.42,1150.53 L433.73,1150.65 L434.23,1150.57 L434.31,1150.91 L434.26,1151.39 L434.40,1151.67 L434.83,1151.67 L435.03,1151.90 L435.18,1152.17 L435.61,1152.16 L435.59,1152.61 L435.98,1152.65 L435.95,1153.10 L436.36,1153.12 L436.47,1153.43 L436.73,1153.59 L436.96,1153.79 L437.21,1153.97 L437.40,1154.20 L437.50,1154.67 L437.86,1154.68 L438.26,1154.58 L438.51,1154.79 L438.63,1155.22 L438.97,1155.26 L439.28,1155.33 L439.44,1155.70 L440.04,1155.24 L440.13,1155.73 L440.40,1155.90 L440.74,1155.92 L441.00,1156.10 L440.99,1156.55 L441.20,1156.76 L441.70,1156.69 L441.80,1157.02 L441.94,1157.31 L442.19,1157.49 L442.57,1157.54 L442.57,1157.97 L443.01,1157.96 L443.33,1158.08 L443.28,1158.55 L443.51,1158.76 L443.84,1158.85 L444.01,1159.11 L443.98,1159.57 L444.29,1159.70 L444.70,1159.71 L444.67,1160.18 L445.05,1160.22 L445.35,1160.36 L445.45,1160.69 L445.59,1160.97 L445.75,1161.25 L446.08,1161.35 L446.30,1161.56 L446.64,1161.64 L447.04,1161.68 L447.05,1162.10 L447.43,1162.15 L447.23,1162.77 L447.74,1162.70 L447.83,1163.04 L448.10,1163.20 L448.24,1163.52 L448.73,1163.37 L448.67,1163.95 L449.15,1163.82 L449.50,1163.85 L449.51,1164.35 L449.84,1164.41 L449.85,1164.91 L450.31,1164.80 L450.71,1164.77 L450.99,1164.91 L451.22,1165.09 L451.25,1165.56 L451.40,1165.88 L451.94,1165.65 L452.06,1166.00 L452.23,1166.28 L452.28,1166.72 L452.49,1166.94 L452.78,1167.07 L453.13,1167.10 L453.40,1167.25 L453.80,1167.21 L453.87,1167.63 L454.31,1167.54 L454.49,1167.81 L454.49,1168.31 L454.86,1168.33 L455.03,1168.61 L455.39,1168.63 L455.72,1168.70 L455.86,1169.02 L456.10,1169.20 L456.25,1169.47 L456.60,1169.58 L456.49,1170.05 L456.60,1170.35 L457.20,1170.27 L457.35,1170.54 L457.25,1171.00 L457.48,1171.20 L457.92,1171.25 L457.93,1171.63 L458.29,1171.73 L458.16,1172.22 L458.48,1172.35 L458.71,1172.56 L459.07,1172.66 L459.14,1172.99 L459.29,1173.26 L459.53,1173.46 L459.81,1173.62 L459.99,1173.87 L459.92,1174.31 L460.00,1174.64 L460.22,1174.84 L460.53,1174.99 L460.62,1175.30 L461.14,1175.28 L461.29,1175.55 L461.23,1175.99 L461.77,1175.95 L461.92,1176.22 L461.75,1176.73 L462.23,1176.74 L462.42,1176.98 L462.51,1177.30 L462.47,1177.71 L463.07,1177.63 L462.82,1178.21 L463.20,1178.30 L463.53,1178.36 L463.65,1178.70 L463.93,1178.82 L464.33,1178.79 L464.19,1179.48 L464.79,1179.18 L464.74,1179.75 L464.95,1179.97 L465.38,1179.89 L465.39,1180.38 L466.04,1180.01 L466.24,1180.24 L466.33,1180.63 L466.76,1180.56 L466.66,1181.19 L467.03,1181.20 L467.14,1181.54 L467.62,1181.41 L467.98,1181.43 L467.82,1182.14 L468.37,1181.90 L468.52,1182.21 L468.89,1182.21 L468.92,1182.67 L469.22,1182.78 L469.58,1182.80 L469.89,1182.88 L469.99,1183.24 L470.03,1183.69 L470.56,1183.49 L470.76,1183.71 L470.83,1184.13 L471.06,1184.32 L471.22,1184.61 L471.53,1184.69 L471.68,1184.99 L472.24,1184.75 L472.13,1185.40 L472.78,1185.03 L472.97,1185.27 L473.22,1185.44 L473.15,1186.03 L473.52,1186.04 L473.57,1186.48 L473.78,1186.69 L474.03,1186.86 L474.43,1186.83 L474.79,1186.85 L474.75,1187.40 L475.20,1187.30 L475.40,1187.60 L475.86,1187.32 L476.01,1187.72 L476.48,1187.44 L476.76,1187.57 L476.82,1188.17 L477.07,1188.36 L477.29,1188.60 L477.61,1188.64 L478.10,1188.30 L478.17,1188.88 L478.36,1189.20 L478.75,1189.09 L479.09,1189.07 L479.43,1189.06 L479.79,1189.01 L479.87,1189.56 L480.03,1189.95 L480.61,1189.43 L480.64,1190.09 L480.89,1190.28 L481.36,1189.99 L481.46,1190.50 L481.98,1190.10 L482.21,1190.34 L482.39,1190.67 L482.56,1191.03 L482.96,1190.90 L483.39,1190.68 L483.37,1191.45 L483.78,1191.31 L483.98,1191.59 L484.45,1191.30 L484.69,1191.51 L485.06,1191.45 L485.30,1191.65 L485.49,1191.97 L485.78,1192.08 L485.97,1192.39 L486.30,1192.40 L486.35,1192.78 L486.82,1192.75 L486.75,1193.26 L487.10,1193.34 L487.47,1193.40 L487.77,1193.54 L487.61,1194.14 L487.97,1194.21 L488.50,1194.12 L488.40,1194.65 L488.77,1194.72 L488.97,1194.95 L489.01,1195.34 L489.50,1195.29 L489.70,1195.53 L489.78,1195.88 L489.82,1196.28 L490.45,1196.08 L490.29,1196.68 L490.57,1196.83 L491.06,1196.78 L491.04,1197.24 L491.28,1197.43 L491.45,1197.69 L491.75,1197.82 L492.08,1197.93 L492.21,1198.24 L492.56,1198.32 L492.67,1198.65 L492.91,1198.84 L493.28,1198.91 L493.44,1199.18 L493.60,1199.46 L493.80,1199.70 L493.93,1200.00 L494.06,1200.31 L494.40,1200.40 L494.76,1200.43 L494.87,1200.79 L495.21,1200.84 L495.51,1200.95 L495.80,1201.08 L495.67,1201.77 L495.93,1201.93 L496.22,1202.05 L496.77,1201.82 L497.03,1201.98 L497.29,1202.13 L497.45,1202.44 L497.64,1202.69 L498.08,1202.61 L498.14,1203.05 L498.26,1203.40 L498.44,1203.67 L498.98,1203.45 L499.31,1203.51 L499.20,1204.18 L499.63,1204.11 L499.91,1204.24 L500.23,1204.33 L500.43,1204.58 L500.67,1204.75 L500.92,1204.93 L501.18,1205.09 L501.30,1205.45 L501.41,1205.81 L501.89,1205.68 L502.08,1205.93 L502.30,1206.15 L502.38,1206.55 L502.67,1206.69 L502.81,1207.00 L503.43,1206.68 L503.39,1207.25 L503.87,1207.11 L503.99,1207.47 L504.25,1207.62 L504.48,1207.83 L504.84,1207.85 L505.20,1207.87 L505.48,1208.01 L505.50,1208.50 L505.59,1208.95 L505.87,1209.08 L506.31,1208.95 L506.72,1208.85 L506.68,1209.52 L507.08,1209.45 L507.35,1209.58 L507.55,1209.86 L508.01,1209.69 L508.25,1209.88 L508.26,1210.45 L508.56,1210.56 L508.72,1210.89 L509.21,1210.66 L509.25,1211.19 L509.55,1211.29 L509.97,1211.19 L510.07,1211.61 L510.64,1211.27 L510.94,1211.36 L510.90,1212.03 L511.44,1211.73 L511.55,1212.14 L511.72,1212.45 L512.00,1212.57 L512.46,1212.41 L512.49,1212.96 L513.06,1212.61 L513.11,1213.12 L513.23,1213.51 L513.64,1213.43 L514.00,1213.42 L513.98,1214.05 L514.35,1214.02 L514.59,1214.23 L514.81,1214.46 L515.06,1214.64 L515.50,1214.50 L515.76,1214.67 L515.96,1214.98 L516.34,1214.84 L516.70,1214.76 L516.97,1214.89 L517.25,1214.99 L517.61,1214.92 L517.70,1215.50 L518.05,1215.44 L518.17,1215.95 L518.72,1215.39 L518.77,1216.08 L519.23,1215.73 L519.47,1215.94 L519.76,1216.03 L519.83,1216.67 L520.21,1216.54 L520.54,1216.51 L520.91,1216.40 L521.24,1216.40 L521.41,1216.77 L521.50,1217.36 L521.95,1217.05 L522.16,1217.35 L522.37,1217.62 L522.91,1217.08 L523.11,1217.41 L523.36,1217.60 L523.70,1217.56 L523.93,1217.80 L524.11,1218.15 L524.56,1217.83 L524.67,1218.38 L525.07,1218.18 L525.24,1218.58 L525.67,1218.31 L525.75,1218.91 L526.15,1218.73 L526.30,1219.17 L526.54,1219.39 L526.94,1219.20 L527.40,1218.87 L527.57,1219.25 L527.65,1219.85 L528.03,1219.70 L528.28,1219.90 L528.65,1219.79 L528.78,1220.27 L529.07,1220.36 L529.45,1220.24 L529.73,1220.33 L530.17,1220.06 L530.48,1220.10 L530.60,1220.60 L530.93,1220.37 L531.19,1220.87 L531.48,1221.01 L531.79,1220.98 L532.08,1221.12 L532.48,1220.39 L532.78,1220.42 L533.06,1220.66 L533.39,1220.49 L533.64,1221.03 L533.91,1221.37 L534.22,1221.37 L534.60,1220.70 L534.85,1221.23 L535.15,1221.28 L535.46,1221.30 L535.79,1221.11 L536.11,1220.99 L536.35,1221.61 L536.65,1221.66 L536.98,1221.53 L537.30,1221.41 L537.65,1220.99 L537.93,1221.24 L538.24,1221.24 L538.55,1221.28 L538.85,1221.29 L539.11,1221.73 L539.42,1221.77 L539.77,1221.36 L540.00,1222.04 L540.40,1221.27 L540.61,1222.16 L540.95,1221.86 L541.25,1221.95 L541.59,1221.66 L541.85,1222.06 L542.14,1222.26 L542.51,1221.70 L542.82,1221.67 L543.06,1222.29 L543.42,1221.84 L543.70,1222.10 L544.12,1221.92 L544.26,1222.34 L544.65,1222.23 L544.92,1222.38 L545.18,1222.56 L545.53,1222.53 L545.55,1223.22 L545.92,1223.15 L546.17,1223.34 L546.58,1223.19 L546.69,1223.69 L546.91,1223.95 L547.18,1224.11 L547.78,1223.50 L547.97,1223.83 L548.33,1223.78 L548.48,1224.21 L548.70,1224.47 L548.99,1224.56 L549.36,1224.49 L549.43,1225.08 L549.83,1224.95 L549.98,1225.36 L550.46,1225.04 L550.66,1225.34 L551.13,1225.04 L551.26,1225.50 L551.51,1225.71 L551.93,1225.52 L552.07,1225.95 L552.52,1225.69 L552.69,1226.07 L552.92,1226.31 L553.25,1226.33 L553.64,1226.21 L553.80,1226.60 L554.14,1226.38 L554.42,1226.59 L554.68,1226.88 L555.01,1226.74 L555.34,1226.58 L555.62,1226.75 L555.93,1226.77 L556.25,1226.67 L556.49,1227.12 L556.80,1227.06 L557.12,1226.98 L557.47,1226.75 L557.64,1227.60 L558.06,1226.88 L558.35,1226.99 L558.63,1227.20 L558.86,1227.68 L559.14,1227.86 L559.46,1227.75 L559.84,1227.32 L560.05,1227.92 L560.47,1227.26 L560.76,1227.38 L561.06,1227.43 L561.29,1227.87 L561.59,1227.95 L561.88,1228.03 L562.14,1228.36 L562.46,1228.23 L562.77,1228.28 L563.15,1227.82 L563.34,1228.52 L563.64,1228.58 L563.95,1228.55 L564.36,1227.94 L564.57,1228.54 L564.90,1228.42 L565.19,1228.48 L565.50,1228.50 L565.78,1228.26 L566.13,1228.68 L566.44,1228.68 L566.74,1228.62 L567.00,1228.17 L567.34,1228.53 L567.59,1227.92 L567.95,1228.41 L568.19,1227.80 L568.49,1227.75 L568.81,1227.81 L569.16,1228.27 L569.49,1228.53 L569.75,1228.04 L570.07,1228.17 L570.37,1228.08 L570.70,1228.28 L571.01,1228.37 L571.30,1228.20 L571.56,1227.73 L571.84,1227.47 L572.22,1228.17 L572.47,1227.60 L572.82,1227.99 L573.13,1228.06 L573.40,1227.70 L573.80,1227.63 L574.06,1227.80 L574.23,1228.12 L574.33,1228.57 L574.59,1228.73 L574.80,1228.98 L575.36,1228.64 L575.48,1229.04 L575.65,1229.37 L576.12,1229.18 L576.30,1229.48 L576.71,1229.39 L576.72,1229.98 L577.16,1229.85 L577.41,1230.04 L577.60,1230.32 L578.01,1230.24 L578.07,1230.74 L578.48,1230.65 L578.76,1230.78 L578.91,1231.15 L579.20,1231.26 L579.45,1231.45 L579.65,1231.72 L579.94,1231.83 L580.37,1231.71 L580.54,1232.03 L580.72,1232.34 L581.31,1231.93 L581.40,1232.40 L581.66,1232.62 L581.98,1232.59 L582.31,1232.57 L582.67,1232.42 L582.92,1232.64 L583.11,1233.12 L583.37,1233.31 L583.64,1233.48 L583.99,1233.37 L584.26,1233.56 L584.56,1233.60 L585.02,1233.13 L585.19,1233.65 L585.44,1233.89 L585.76,1233.87 L586.17,1233.56 L586.36,1234.00 L586.73,1233.82 L587.02,1233.94 L587.24,1234.28 L587.55,1234.32 L587.97,1233.95 L588.15,1234.46 L588.58,1234.05 L588.84,1234.26 L588.99,1234.86 L589.26,1235.02 L589.71,1234.55 L589.88,1235.06 L590.32,1234.66 L590.54,1235.01 L590.87,1234.97 L591.23,1234.83 L591.44,1235.21 L591.70,1235.39 L591.93,1235.73 L592.40,1235.18 L592.60,1235.60 L592.95,1235.55 L593.32,1235.45 L593.53,1235.73 L593.79,1235.89 L593.89,1236.44 L594.13,1236.65 L594.65,1236.20 L594.84,1236.53 L595.11,1236.68 L595.40,1236.77 L595.52,1237.25 L595.80,1237.36 L596.38,1236.77 L596.54,1237.18 L596.78,1237.39 L597.02,1237.60 L597.34,1237.62 L597.52,1237.97 L598.04,1237.52 L598.20,1237.92 L598.36,1238.33 L598.86,1237.93 L599.13,1238.05 L599.27,1238.51 L599.70,1238.26 L599.85,1238.69 L600.27,1238.48 L600.53,1238.65 L600.76,1238.88 L600.89,1239.35 L601.23,1239.33 L601.51,1239.45 L601.78,1239.58 L602.10,1239.60 L602.42,1239.62 L602.53,1240.20 L602.93,1240.00 L603.20,1240.13 L603.66,1239.79 L603.89,1240.04 L604.07,1240.42 L604.25,1240.82 L604.61,1240.73 L605.09,1240.31 L605.15,1241.03 L605.62,1240.65 L605.79,1241.07 L606.19,1240.85 L606.52,1240.86 L606.59,1241.53 L606.96,1241.41 L607.21,1241.61 L607.47,1241.80 L607.79,1241.82 L608.13,1241.78 L608.44,1241.81 L608.66,1242.09 L609.03,1241.97 L609.31,1242.09 L609.44,1242.64 L609.86,1242.37 L610.10,1242.60 L610.42,1242.78 L610.72,1242.73 L611.02,1242.52 L611.34,1242.79 L611.62,1242.36 L611.91,1242.05 L612.26,1242.79 L612.56,1242.68 L612.87,1242.66 L613.18,1242.80 L613.46,1242.32 L613.77,1242.32 L614.08,1242.47 L614.40,1242.69 L614.68,1242.14 L615.01,1242.55 L615.30,1242.30 L615.51,1242.76 L615.95,1242.22 L616.29,1242.08 L616.56,1242.27 L616.77,1242.75 L617.15,1242.45 L617.32,1243.15 L617.78,1242.47 L617.93,1243.23 L618.33,1242.83 L618.52,1243.39 L618.93,1242.95 L619.27,1242.82 L619.47,1243.37 L619.84,1243.11 L620.02,1243.73 L620.34,1243.70 L620.75,1243.27 L621.00,1243.54 L621.29,1243.66 L621.55,1243.92 L621.94,1243.54 L622.19,1243.87 L622.50,1243.89 L622.78,1244.02 L623.09,1244.06 L623.41,1244.02 L623.72,1244.04 L624.02,1244.12 L624.21,1244.70 L624.60,1244.36 L624.97,1244.06 L625.22,1244.38 L625.45,1244.76 L625.80,1244.60 L626.00,1244.88 L626.50,1244.61 L626.64,1244.99 L626.89,1245.17 L627.00,1245.60 L627.50,1245.34 L627.51,1245.95 L627.82,1246.03 L628.41,1245.62 L628.49,1246.11 L628.74,1246.29 L628.97,1246.51 L629.14,1246.84 L629.68,1246.51 L629.70,1247.10 L630.29,1246.68 L630.23,1247.41 L630.73,1247.16 L631.09,1247.14 L631.05,1247.85 L631.25,1248.11 L631.65,1248.04 L631.87,1248.28 L632.29,1248.16 L632.61,1248.21 L632.72,1248.65 L632.93,1248.91 L633.41,1248.68 L633.64,1248.90 L633.95,1248.98 L634.22,1249.13 L634.25,1249.71 L634.86,1249.25 L635.12,1249.41 L635.20,1249.90 L635.56,1249.71 L635.73,1250.29 L636.07,1250.18 L636.33,1250.42 L636.64,1250.44 L636.89,1250.68 L637.25,1250.50 L637.67,1250.09 L637.95,1250.24 L638.18,1250.57 L638.54,1250.40 L638.79,1250.64 L639.09,1250.68 L639.24,1251.36 L639.54,1251.42 L639.90,1251.25 L640.25,1251.11 L640.54,1251.18 L640.91,1250.96 L641.13,1251.36 L641.49,1251.17 L641.70,1251.58 L641.94,1251.89 L642.30,1251.70 L642.61,1251.65 L642.88,1251.96 L643.17,1252.10 L643.47,1252.22 L643.82,1251.83 L644.15,1251.70 L644.38,1252.32 L644.73,1252.01 L645.05,1251.85 L645.31,1252.25 L645.59,1252.45 L645.88,1252.59 L646.26,1252.09 L646.57,1252.03 L646.88,1252.06 L647.17,1252.14 L647.49,1252.11 L647.71,1252.77 L648.05,1252.55 L648.42,1252.08 L648.71,1252.15 L649.01,1252.27 L649.22,1253.01 L649.60,1252.49 L649.85,1252.94 L650.22,1252.46 L650.52,1252.48 L650.74,1253.18 L651.14,1252.45 L651.40,1252.86 L651.70,1252.90 L651.99,1253.00 L652.32,1252.90 L652.52,1253.33 L652.79,1253.49 L653.21,1253.02 L653.49,1253.16 L653.74,1253.38 L654.04,1253.45 L654.30,1253.65 L654.56,1253.84 L654.94,1253.54 L655.11,1254.13 L655.50,1253.78 L655.88,1253.49 L656.09,1253.90 L656.36,1254.06 L656.72,1253.83 L656.87,1254.50 L657.22,1254.33 L657.53,1254.33 L657.87,1254.20 L658.19,1254.14 L658.45,1254.34 L658.70,1254.60 L659.00,1254.75 L659.30,1254.80 L659.60,1254.82 L659.94,1254.26 L660.20,1254.95 L660.51,1254.89 L660.81,1254.90 L661.12,1254.78 L661.41,1255.09 L661.71,1255.21 L662.03,1254.89 L662.34,1254.77 L662.64,1254.89 L662.93,1255.14 L663.24,1255.05 L663.54,1255.16 L663.87,1254.76 L664.15,1255.04 L664.48,1254.73 L664.76,1255.06 L665.10,1254.57 L665.37,1255.06 L665.66,1255.25 L665.95,1255.43 L666.28,1255.07 L666.56,1255.44 L666.90,1254.85 L667.22,1254.70 L667.49,1255.21 L667.81,1255.04 L668.10,1255.20 L668.42,1255.19 L668.67,1255.43 L668.93,1255.64 L669.20,1255.81 L669.61,1255.42 L669.85,1255.72 L670.14,1255.84 L670.42,1255.96 L670.74,1255.95 L671.06,1255.92 L671.28,1256.29 L671.74,1255.69 L671.87,1256.42 L672.30,1255.97 L672.59,1256.05 L672.78,1256.55 L673.12,1256.44 L673.44,1256.42 L673.80,1256.27 L674.10,1256.32 L674.35,1256.58 L674.68,1256.51 L674.84,1257.09 L675.24,1256.75 L675.50,1256.97 L675.79,1257.08 L676.02,1257.40 L676.29,1257.57 L676.63,1257.49 L677.01,1257.21 L677.32,1257.22 L677.53,1257.65 L677.86,1257.56 L678.08,1257.94 L678.49,1257.58 L678.68,1258.06 L679.05,1257.85 L679.36,1257.86 L679.67,1257.85 L679.90,1258.20 L680.23,1258.39 L680.51,1258.13 L680.81,1258.12 L681.15,1258.34 L681.36,1257.59 L681.72,1258.01 L682.00,1257.78 L682.30,1257.66 L682.67,1258.14 L682.90,1257.58 L683.23,1257.69 L683.53,1257.68 L683.80,1257.38 L684.12,1257.49 L684.39,1257.18 L684.75,1257.58 L685.07,1257.66 L685.41,1257.95 L685.71,1257.87 L685.95,1257.28 L686.32,1257.80 L686.53,1257.00 L686.83,1257.00 L687.18,1257.30 L687.50,1257.39 L687.79,1257.28 L688.03,1256.74 L688.38,1257.03 L688.69,1257.07 L688.98,1256.94 L689.30,1257.00 L689.59,1257.25 L689.89,1257.26 L690.23,1256.69 L690.51,1257.05 L690.80,1257.27 L691.10,1257.37 L691.41,1257.28 L691.70,1257.58 L692.02,1257.39 L692.34,1257.10 L692.62,1257.51 L692.93,1257.33 L693.24,1257.34 L693.54,1257.35 L693.83,1257.52 L694.14,1257.50 L694.46,1257.29 L694.74,1257.61 L695.07,1257.30 L695.35,1257.60 L695.64,1257.78 L695.97,1257.45 L696.29,1257.13 L696.55,1257.83 L696.90,1257.23 L697.20,1257.24 L697.51,1257.12 L697.79,1257.47 L698.10,1257.47 L698.38,1257.87 L698.70,1257.60 L699.01,1257.30 L699.32,1257.49 L699.63,1257.84 L699.94,1257.17 L700.25,1257.52 L700.56,1257.28 L700.87,1257.84 L701.18,1257.42 L701.49,1257.28 L701.80,1257.25 L702.11,1257.34 L702.42,1257.78 L702.73,1257.25 L703.04,1257.19 L703.35,1257.37 L703.66,1257.19 L703.97,1257.81 L704.28,1257.83 L704.59,1257.63 L704.90,1257.45 L705.21,1257.19 L705.52,1257.79 L705.83,1257.37 L706.14,1257.64 L706.45,1258.04 L706.76,1257.37 L707.07,1257.77 L707.38,1257.54 L707.69,1257.63 L708.00,1257.60 L708.28,1257.46 L708.62,1257.67 L708.89,1257.45 L709.11,1256.97 L709.53,1257.61 L709.73,1257.04 L710.04,1257.09 L710.36,1257.15 L710.67,1257.19 L711.00,1257.28 L711.19,1256.67 L711.53,1256.84 L711.86,1257.00 L712.13,1256.81 L712.39,1256.56 L712.78,1256.99 L713.10,1257.08 L713.34,1256.75 L713.62,1256.59 L713.85,1256.21 L714.20,1256.44 L714.55,1256.65 L714.77,1256.18 L715.08,1256.24 L715.38,1256.19 L715.65,1256.02 L716.00,1256.23 L716.24,1255.89 L716.64,1256.39 L716.92,1256.26 L717.13,1255.74 L717.38,1255.48 L717.67,1255.38 L718.10,1256.02 L718.33,1255.62 L718.58,1255.30 L718.86,1255.19 L719.27,1255.77 L719.48,1255.22 L719.89,1255.79 L720.09,1255.24 L720.43,1255.42 L720.68,1255.12 L721.00,1255.20 L721.28,1255.38 L721.65,1254.98 L721.92,1255.14 L722.24,1255.06 L722.55,1255.05 L722.78,1255.54 L723.01,1255.96 L723.45,1255.14 L723.62,1255.96 L724.00,1255.49 L724.32,1255.42 L724.63,1255.36 L724.89,1255.68 L725.22,1255.50 L725.46,1255.91 L725.76,1255.92 L726.10,1255.71 L726.30,1256.39 L726.64,1256.17 L726.91,1256.38 L727.28,1255.97 L727.51,1256.44 L727.81,1256.46 L728.10,1256.58 L728.48,1256.11 L728.67,1256.83 L729.04,1256.44 L729.39,1256.16 L729.56,1256.95 L729.95,1256.45 L730.16,1257.02 L730.56,1256.46 L730.87,1256.39 L731.11,1256.82 L731.40,1256.90 L731.68,1257.06 L731.98,1257.08 L732.30,1257.00 L732.60,1256.86 L732.91,1257.21 L733.20,1256.98 L733.49,1256.63 L733.80,1257.02 L734.09,1256.80 L734.40,1256.96 L734.69,1256.60 L734.99,1256.67 L735.29,1256.67 L735.61,1257.02 L735.88,1256.43 L736.20,1256.77 L736.50,1256.75 L736.81,1257.16 L737.09,1256.47 L737.40,1256.81 L737.71,1257.07 L738.00,1256.69 L738.32,1257.17 L738.59,1256.53 L738.90,1256.74 L739.19,1256.55 L739.49,1256.52 L739.78,1256.32 L740.11,1256.94 L740.41,1256.82 L740.71,1256.97 L741.00,1256.64 L741.29,1256.36 L741.61,1256.78 L741.92,1257.01 L742.20,1256.66 L742.49,1256.39 L742.80,1256.61 L743.11,1256.89 L743.41,1256.85 L743.70,1256.67 L744.01,1256.76 L744.28,1256.11 L744.59,1256.19 L744.88,1256.07 L745.20,1256.45 L745.50,1256.47 L745.78,1256.04 L746.11,1256.75 L746.40,1256.49 L746.71,1256.64 L747.02,1256.84 L747.31,1256.65 L747.60,1256.40 L747.90,1256.62 L748.21,1256.52 L748.51,1256.42 L748.81,1256.64 L749.12,1256.65 L749.42,1256.22 L749.72,1256.67 L750.03,1256.08 L750.33,1256.43 L750.63,1256.78 L750.94,1256.15 L751.24,1256.75 L751.54,1256.39 L751.85,1256.61 L752.15,1256.09 L752.45,1256.00 L752.75,1256.18 L753.06,1256.49 L753.36,1256.75 L753.66,1256.46 L753.97,1256.42 L754.27,1256.29 L754.57,1256.40 L754.88,1256.59 L755.18,1256.73 L755.48,1256.26 L755.79,1256.56 L756.09,1256.26 L756.39,1256.18 L756.70,1256.00 L757.00,1256.40 L757.28,1256.26 L757.61,1256.37 L757.89,1256.23 L758.17,1256.11 L758.52,1256.33 L758.76,1256.00 L759.10,1256.15 L759.37,1255.97 L759.73,1256.25 L759.92,1255.65 L760.23,1255.69 L760.59,1255.91 L760.80,1255.44 L761.18,1255.82 L761.39,1255.35 L761.66,1255.14 L762.02,1255.42 L762.32,1255.37 L762.57,1255.09 L762.90,1255.20 L763.20,1255.00 L763.51,1255.65 L763.81,1255.20 L764.11,1255.39 L764.42,1255.13 L764.72,1255.25 L765.02,1255.01 L765.33,1254.90 L765.63,1255.50 L765.93,1255.36 L766.24,1255.02 L766.54,1255.12 L766.84,1255.25 L767.15,1254.81 L767.45,1255.30 L767.75,1255.65 L768.05,1255.37 L768.36,1255.17 L768.66,1254.86 L768.96,1255.24 L769.27,1255.27 L769.57,1255.38 L769.87,1255.54 L770.18,1254.99 L770.48,1254.84 L770.78,1255.62 L771.09,1255.23 L771.39,1255.55 L771.69,1255.29 L772.00,1255.56 L772.30,1255.20 L772.60,1255.30 L772.90,1255.43 L773.21,1255.35 L773.50,1255.65 L773.81,1255.48 L774.11,1255.69 L774.43,1255.20 L774.74,1255.02 L775.04,1255.03 L775.34,1255.27 L775.64,1255.37 L775.94,1255.50 L776.25,1255.31 L776.54,1255.77 L776.86,1255.28 L777.18,1254.94 L777.46,1255.41 L777.76,1255.54 L778.08,1255.18 L778.37,1255.64 L778.69,1255.16 L778.97,1255.81 L779.29,1255.41 L779.57,1255.87 L779.89,1255.58 L780.19,1255.69 L780.51,1255.24 L780.79,1255.85 L781.09,1255.96 L781.42,1255.22 L781.71,1255.62 L782.03,1255.25 L782.31,1255.91 L782.61,1255.91 L782.92,1255.96 L783.22,1255.84 L783.54,1255.51 L783.84,1255.74 L784.16,1255.24 L784.46,1255.29 L784.75,1255.71 L785.05,1255.88 L785.37,1255.49 L785.68,1255.25 L785.98,1255.29 L786.28,1255.56 L786.58,1255.61 L786.86,1256.10 L787.18,1255.92 L787.47,1256.10 L787.78,1256.00 L788.09,1255.96 L788.39,1256.03 L788.70,1255.80 L788.99,1255.54 L789.31,1256.01 L789.60,1255.84 L789.90,1255.89 L790.20,1255.74 L790.50,1255.69 L790.81,1256.03 L791.11,1255.98 L791.39,1255.43 L791.71,1256.01 L792.00,1255.72 L792.29,1255.28 L792.61,1255.92 L792.91,1255.99 L793.20,1255.58 L793.50,1255.56 L793.79,1255.41 L794.09,1255.33 L794.40,1255.62 L794.70,1255.53 L795.01,1255.71 L795.31,1255.70 L795.59,1255.27 L795.91,1255.78 L796.20,1255.48 L796.50,1255.43 L796.79,1255.22 L797.10,1255.59 L797.41,1255.65 L797.71,1255.73 L798.01,1255.75 L798.30,1255.32 L798.60,1255.48 L798.90,1255.53 L799.20,1255.32 L799.48,1254.97 L799.81,1255.60 L800.11,1255.74 L800.40,1255.35 L800.71,1255.74 L800.99,1254.95 L801.30,1255.42 L801.60,1255.24 L801.90,1255.44 L802.20,1255.18 L802.51,1255.49 L802.79,1255.02 L803.09,1255.08 L803.40,1255.19 L803.70,1255.18 L804.00,1255.17 L804.31,1255.63 L804.60,1255.23 L804.90,1255.27 L805.20,1255.20 L805.51,1254.88 L805.80,1255.25 L806.09,1255.47 L806.39,1255.43 L806.68,1255.67 L807.00,1255.36 L807.30,1255.17 L807.59,1255.64 L807.88,1255.75 L808.18,1255.75 L808.51,1254.99 L808.79,1255.51 L809.11,1255.06 L809.41,1255.17 L809.69,1255.64 L809.99,1255.74 L810.30,1255.50 L810.61,1255.27 L810.90,1255.43 L811.21,1255.28 L811.51,1255.26 L811.81,1255.22 L812.08,1255.90 L812.38,1255.89 L812.71,1255.24 L812.99,1255.84 L813.29,1255.77 L813.59,1255.76 L813.91,1255.35 L814.20,1255.61 L814.49,1255.88 L814.79,1255.79 L815.08,1256.01 L815.42,1255.23 L815.71,1255.49 L816.00,1255.54 L816.30,1255.60 L816.58,1256.12 L816.88,1256.12 L817.19,1256.01 L817.49,1255.86 L817.79,1255.98 L818.09,1256.06 L818.41,1255.50 L818.70,1255.89 L818.98,1256.22 L819.30,1255.80 L819.63,1255.53 L819.90,1255.80 L820.21,1255.76 L820.47,1256.22 L820.80,1255.89 L821.13,1255.63 L821.41,1255.87 L821.69,1256.14 L822.00,1256.07 L822.34,1255.63 L822.58,1256.36 L822.92,1255.91 L823.24,1255.72 L823.49,1256.27 L823.79,1256.34 L824.09,1256.30 L824.43,1255.87 L824.74,1255.83 L824.98,1256.49 L825.30,1256.32 L825.64,1255.90 L825.90,1256.42 L826.23,1256.01 L826.50,1256.39 L826.78,1256.63 L827.12,1256.22 L827.41,1256.41 L827.68,1256.71 L828.02,1256.34 L828.29,1256.67 L828.63,1256.19 L828.88,1256.80 L829.22,1256.41 L829.51,1256.61 L829.76,1257.14 L830.08,1256.97 L830.42,1256.46 L830.68,1257.04 L831.01,1256.70 L831.30,1256.82 L831.62,1256.65 L831.92,1256.58 L832.16,1257.33 L832.51,1256.82 L832.82,1256.69 L833.08,1257.24 L833.40,1257.00 L833.79,1256.75 L834.01,1257.09 L834.37,1256.92 L834.68,1256.94 L834.75,1257.82 L835.16,1257.48 L835.41,1257.70 L835.83,1257.36 L836.07,1257.63 L836.43,1257.45 L836.54,1258.19 L837.03,1257.57 L837.10,1258.44 L837.39,1258.54 L837.86,1257.98 L838.14,1258.14 L838.45,1258.13 L838.78,1258.08 L838.97,1258.54 L839.25,1258.66 L839.46,1259.05 L839.85,1258.79 L840.21,1258.62 L840.45,1258.91 L840.80,1258.77 L841.12,1258.74 L841.33,1259.12 L841.60,1259.30 L841.82,1259.66 L842.28,1259.09 L842.38,1259.93 L842.70,1259.89 L842.96,1260.10 L843.34,1259.83 L843.70,1259.66 L843.89,1260.13 L844.32,1259.68 L844.53,1260.07 L844.76,1260.41 L845.12,1260.23 L845.36,1260.50 L845.78,1260.08 L845.93,1260.73 L846.38,1260.20 L846.63,1260.43 L846.87,1260.73 L847.09,1261.08 L847.56,1260.48 L847.82,1260.69 L848.00,1261.18 L848.41,1260.81 L848.67,1261.01 L849.01,1260.90 L849.13,1261.67 L849.47,1261.57 L849.85,1261.30 L850.01,1261.90 L850.33,1261.88 L850.75,1261.47 L851.00,1261.70 L851.33,1261.34 L851.59,1261.94 L851.90,1261.89 L852.23,1261.58 L852.55,1261.37 L852.84,1261.64 L853.10,1262.24 L853.42,1262.04 L853.72,1262.05 L854.02,1262.10 L854.36,1261.74 L854.62,1262.31 L854.95,1261.96 L855.22,1262.39 L855.55,1262.13 L855.85,1262.22 L856.14,1262.41 L856.44,1262.53 L856.76,1262.31 L857.04,1262.54 L857.38,1262.09 L857.69,1262.02 L858.00,1262.00 L858.30,1262.12 L858.57,1262.61 L858.91,1262.12 L859.20,1262.30 L859.46,1262.02 L859.75,1261.83 L860.15,1262.33 L860.49,1262.46 L860.71,1261.96 L860.97,1261.67 L861.37,1262.15 L861.69,1262.17 L861.93,1261.73 L862.24,1261.73 L862.53,1261.59 L862.86,1261.68 L863.18,1261.73 L863.53,1261.91 L863.74,1261.34 L864.15,1261.83 L864.39,1261.47 L864.68,1261.28 L865.04,1261.56 L865.25,1260.98 L865.60,1261.20 L865.90,1261.10" fill="none" stroke="#1212c0" stroke-width="1.15" stroke-dasharray="11.8,5,1.4,5"/>
<rect x="716.5" y="860.5" width="142" height="50" fill="#fff" stroke="#1a1a1a" stroke-width="1.4"/>
<line x1="725.5" y1="873.6" x2="775" y2="873.6" stroke="#1a1a9a" stroke-width="1.3" stroke-dasharray="12.4,4.2,1.8,4.3"/>
<line x1="725.5" y1="896.5" x2="775" y2="896.5" stroke="#1a1a9a" stroke-width="1.3"/>
<text transform="translate(779.00,879.50) scale(0.9,1)" text-anchor="start" class="t">magnitude</text>
<text transform="translate(779.00,901.80) scale(0.9,1)" text-anchor="start" class="t">order</text>
<rect x="0" y="1684" width="1077" height="1" fill="#000"/>
<rect x="1129" y="1684" width="2" height="1" fill="#151530"/><rect x="1136" y="1684" width="3.5" height="1" fill="#151530"/><rect x="1141.8" y="1684" width="3.7000000000000455" height="1" fill="#151530"/><rect x="1152" y="1684" width="4.2000000000000455" height="1" fill="#151530"/><rect x="1164" y="1684" width="9.799999999999955" height="1" fill="#151530"/><rect x="1175" y="1684" width="2.5" height="1" fill="#151530"/><rect x="1178.8" y="1684" width="6.7999999999999545" height="1" fill="#151530"/><rect x="1187" y="1684" width="4.2999999999999545" height="1" fill="#151530"/>
</svg>
</body></html>
